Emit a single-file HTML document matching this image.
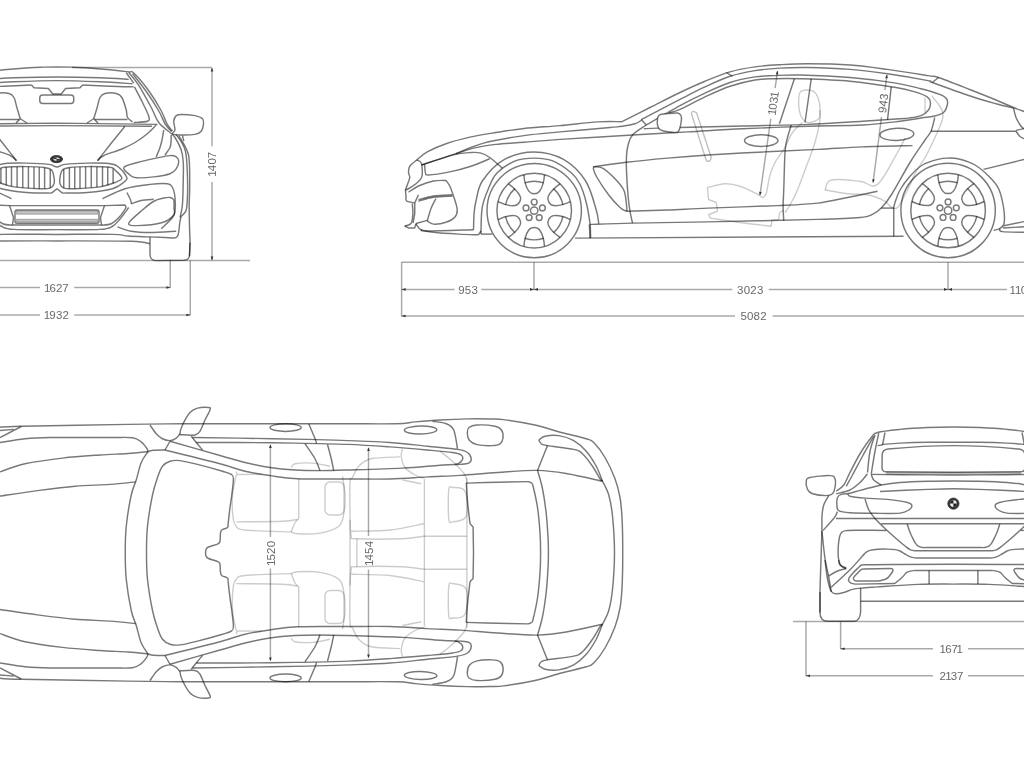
<!DOCTYPE html>
<html><head><meta charset="utf-8"><title>BMW 8 Series Gran Coupe dimensions</title>
<style>
html,body{margin:0;padding:0;background:#fff;}
body{width:1024px;height:768px;overflow:hidden;position:relative;}
svg{position:absolute;left:0;top:0;display:block;}
.car path,.car rect,.car ellipse,.car circle{fill:none;stroke:rgba(0,0,0,0.53);stroke-width:1.45;stroke-linecap:butt;stroke-linejoin:round;}
.car .faint{stroke:rgba(0,0,0,0.2);stroke-width:1.4;}
.car .faint2{stroke:rgba(0,0,0,0.25);stroke-width:1.4;}
.car .bar{fill:#c8c8c8;stroke:rgba(0,0,0,0.25);stroke-width:1.2;}
.car .logo{fill:#333;stroke:#333;stroke-width:0.8;}
.car path.wfill{fill:#fff;}
.dim path{fill:none;stroke:rgba(0,0,0,0.34);stroke-width:1.5;}
.dim .ah{fill:#333;stroke:none;}
.dim{opacity:0.995;}
.dim text{font-family:"Liberation Sans",sans-serif;font-size:11.5px;fill:#686868;text-anchor:middle;dominant-baseline:central;}
</style></head><body>
<svg width="1024" height="768" viewBox="0 0 1024 768">
<g class="car"><g><path d="M82.5,85 C87.08,85.21 101.46,85.93 110,86.25 C118.54,86.57 129.79,86.79 133.75,86.9"/><path d="M128.75,72.5 C130.31,74.48 134.35,78.57 138.1,84.4 C141.85,90.23 147.81,101.15 151.25,107.5 C154.69,113.85 155.62,118.33 158.75,122.5 C161.88,126.67 168.12,130.83 170,132.5"/><path d="M126.25,72.8 L133.75,83.1"/><path d="M132.5,73.6 C134.8,76.58 141.92,85.27 146.3,91.5 C150.68,97.73 155.65,105.58 158.8,111 C161.95,116.42 163.08,120.58 165.2,124 C167.32,127.42 170.45,130.25 171.5,131.5"/><path d="M134.4,86.9 C135.75,89.5 140.11,97.61 142.5,102.5 C144.89,107.39 147.92,113.12 148.75,116.25 C149.58,119.38 150,120.21 147.5,121.25 C145,122.29 136.04,122.29 133.75,122.5"/><path d="M93.75,118.75 C94.29,116.96 95.96,111.54 97,108 C98.04,104.46 98.67,99.92 100,97.5 C101.33,95.08 102.29,94.17 105,93.5 C107.71,92.83 113.43,92.83 116.25,93.5 C119.07,94.17 120.23,94.75 121.9,97.5 C123.57,100.25 125.32,106.67 126.25,110 C127.18,113.33 126.46,115.52 127.5,117.5 C128.54,119.48 131.67,121.17 132.5,121.9"/><path d="M87,123 L93.75,118.75 L98,123"/><path d="M95,119.4 L127.5,119.4"/><path d="M125,126.25 C123,128.71 116.96,136.04 113,141 C109.04,145.96 103.83,152.73 101.25,156 C98.67,159.27 98.12,159.83 97.5,160.6"/><path d="M156.25,125 C154.71,126.5 150.54,131.08 147,134 C143.46,136.92 139.17,140 135,142.5 C130.83,145 127.21,146.82 122,149 C116.79,151.18 107.83,153.67 103.75,155.6 C99.67,157.53 98.54,159.77 97.5,160.6"/><path d="M163.75,130 C163.46,131.67 162.62,137.08 162,140 C161.38,142.92 160.96,144.68 160,147.5 C159.04,150.32 156.88,155.33 156.25,156.9"/><path d="M171.25,135 C171.21,136.17 171.21,139.92 171,142 C170.79,144.08 171,145.33 170,147.5 C169,149.67 165.83,153.75 165,155"/><path d="M178.75,135.6 C179.79,137.38 183.41,143.18 185,146.25 C186.59,149.32 187.57,151.21 188.3,154 C189.03,156.79 189.17,159 189.4,163 C189.63,167 189.67,173.08 189.7,178 C189.73,182.92 189.68,188 189.6,192.5 C189.52,197 189.22,199.42 189.2,205 C189.18,210.58 189.37,219.75 189.5,226 C189.63,232.25 190.02,237.46 190,242.5 C189.98,247.54 189.5,253.96 189.4,256.25"/><path d="M176,134.5 C177,135.92 180.42,140.17 182,143 C183.58,145.83 184.7,148.25 185.5,151.5 C186.3,154.75 186.47,158.08 186.8,162.5 C187.13,166.92 187.37,173 187.5,178 C187.63,183 187.81,187.17 187.6,192.5 C187.39,197.83 187.31,206.04 186.25,210 C185.19,213.96 182.08,215.21 181.25,216.25"/><path d="M170,132.5 C170.83,133.33 173.12,134.58 175,137.5 C176.88,140.42 179.87,145.83 181.25,150 C182.63,154.17 182.98,157.08 183.3,162.5 C183.62,167.92 183.35,175.42 183.2,182.5 C183.05,189.58 182.93,199.17 182.4,205 C181.87,210.83 180.4,215.42 180,217.5"/><path d="M175,130 C175.21,127.92 173.54,123.65 173.75,121.25 C173.96,118.85 175,116.74 176.25,115.6 C177.5,114.46 178.12,114.4 181.25,114.4 C184.38,114.4 191.46,114.88 195,115.6 C198.54,116.32 201.08,117.39 202.5,118.75 C203.92,120.11 203.71,121.67 203.5,123.75 C203.29,125.83 202.67,129.47 201.25,131.25 C199.83,133.03 198.54,133.78 195,134.4 C191.46,135.03 183.75,135.11 180,135 C176.25,134.89 173.33,134.58 172.5,133.75 C171.67,132.92 174.79,132.08 175,130Z"/><path d="M182.5,135.6 L183.8,141"/><path d="M123.75,167.5 C125,165.42 132.08,164.07 137.5,162.5 C142.92,160.93 150.83,159.25 156.25,158.1 C161.67,156.95 166.67,155.8 170,155.6 C173.33,155.4 174.79,155.96 176.25,156.9 C177.71,157.84 178.75,159.28 178.75,161.25 C178.75,163.22 177.71,166.67 176.25,168.75 C174.79,170.83 173.75,172.39 170,173.75 C166.25,175.11 159.38,176.23 153.75,176.9 C148.12,177.57 140.21,178.07 136.25,177.75 C132.29,177.43 132.08,176.71 130,175 C127.92,173.29 122.5,169.58 123.75,167.5Z"/><path d="M60,177.5 C60.42,175.21 60.83,171.67 62.5,170 C64.17,168.33 65.83,168.07 70,167.5 C74.17,166.93 80.83,166.64 87.5,166.6 C94.17,166.56 105.42,166.68 110,167.25 C114.58,167.82 113.02,168.19 115,170 C116.98,171.81 121.9,176.02 121.9,178.1 C121.9,180.18 118.65,181.03 115,182.5 C111.35,183.97 106.67,185.86 100,186.9 C93.33,187.94 81.04,188.55 75,188.75 C68.96,188.95 66.25,188.93 63.75,188.1 C61.25,187.27 60.62,185.52 60,183.75 C59.38,181.98 59.58,179.79 60,177.5Z"/><path d="M63.75,169.3 L63.75,188.1"/><path d="M69.4,167.6 L69.4,188.6"/><path d="M74.75,167.2 L74.75,188.75"/><path d="M80,166.9 L80,188.6"/><path d="M85.6,166.7 L85.6,188.2"/><path d="M91.25,166.6 L91.25,187.8"/><path d="M96.9,166.7 L96.9,187.2"/><path d="M102.5,166.9 L102.5,186.4"/><path d="M107.75,167.1 L107.75,185"/><path d="M113.1,168.6 L113.1,183.4"/><path d="M102.5,198.75 C106.25,197.08 117.08,191.14 125,188.75 C132.92,186.36 142.92,185.23 150,184.4 C157.08,183.57 163.75,183.23 167.5,183.75 C171.25,184.27 171.25,185.21 172.5,187.5 C173.75,189.79 174.58,193.54 175,197.5 C175.42,201.46 175.42,207.92 175,211.25 C174.58,214.58 174.79,214.58 172.5,217.5 C170.21,220.42 163.12,226.88 161.25,228.75"/><path d="M128.75,223.1 C129.58,220.5 138.33,213.64 142.5,210 C146.67,206.36 150.17,203.25 153.75,201.25 C157.33,199.25 161.29,198.62 164,198 C166.71,197.38 168.38,197.17 170,197.5 C171.62,197.83 173.08,198.25 173.75,200 C174.42,201.75 174,205.5 174,208 C174,210.5 175.67,212.58 173.75,215 C171.83,217.42 168.54,220.73 162.5,222.5 C156.46,224.27 143.12,225.5 137.5,225.6 C131.88,225.7 127.92,225.7 128.75,223.1Z"/><path d="M126.9,192.5 C127.52,193.75 129.88,198.12 130.6,200 C131.32,201.88 131.14,203.12 131.25,203.75"/><path d="M131.25,203.75 C132.88,203.21 137.25,201.24 141,200.5 C144.75,199.76 151.62,199.5 153.75,199.3"/><path d="M104.5,205.6 L125,205 L126.25,207.3"/><path d="M126.25,207.3 C125.21,208.79 122.5,213.51 120,216.25 C117.5,218.99 114.33,222.26 111.25,223.75 C108.17,225.24 103.12,224.96 101.5,225.2"/><path d="M175,238.1 C175.52,237.58 177.27,237.81 178.1,235 C178.93,232.19 179.47,224.38 180,221.25 C180.53,218.12 181.04,217.08 181.25,216.25"/><path d="M117.5,226.9 C119.79,227.62 125.83,230.32 131.25,231.25 C136.67,232.18 142.5,232.5 150,232.5 C157.5,232.5 171.88,231.46 176.25,231.25"/><path d="M150,236.9 L150,254 Q150,260.6 156,260.6 L184,260.3 Q189.4,260 189.6,255 L190,242.5"/></g><g transform="translate(114,0) scale(-1,1)"><path d="M82.5,85 C87.08,85.21 101.46,85.93 110,86.25 C118.54,86.57 129.79,86.79 133.75,86.9"/><path d="M128.75,72.5 C130.31,74.48 134.35,78.57 138.1,84.4 C141.85,90.23 147.81,101.15 151.25,107.5 C154.69,113.85 155.62,118.33 158.75,122.5 C161.88,126.67 168.12,130.83 170,132.5"/><path d="M126.25,72.8 L133.75,83.1"/><path d="M132.5,73.6 C134.8,76.58 141.92,85.27 146.3,91.5 C150.68,97.73 155.65,105.58 158.8,111 C161.95,116.42 163.08,120.58 165.2,124 C167.32,127.42 170.45,130.25 171.5,131.5"/><path d="M134.4,86.9 C135.75,89.5 140.11,97.61 142.5,102.5 C144.89,107.39 147.92,113.12 148.75,116.25 C149.58,119.38 150,120.21 147.5,121.25 C145,122.29 136.04,122.29 133.75,122.5"/><path d="M93.75,118.75 C94.29,116.96 95.96,111.54 97,108 C98.04,104.46 98.67,99.92 100,97.5 C101.33,95.08 102.29,94.17 105,93.5 C107.71,92.83 113.43,92.83 116.25,93.5 C119.07,94.17 120.23,94.75 121.9,97.5 C123.57,100.25 125.32,106.67 126.25,110 C127.18,113.33 126.46,115.52 127.5,117.5 C128.54,119.48 131.67,121.17 132.5,121.9"/><path d="M87,123 L93.75,118.75 L98,123"/><path d="M95,119.4 L127.5,119.4"/><path d="M125,126.25 C123,128.71 116.96,136.04 113,141 C109.04,145.96 103.83,152.73 101.25,156 C98.67,159.27 98.12,159.83 97.5,160.6"/><path d="M156.25,125 C154.71,126.5 150.54,131.08 147,134 C143.46,136.92 139.17,140 135,142.5 C130.83,145 127.21,146.82 122,149 C116.79,151.18 107.83,153.67 103.75,155.6 C99.67,157.53 98.54,159.77 97.5,160.6"/><path d="M163.75,130 C163.46,131.67 162.62,137.08 162,140 C161.38,142.92 160.96,144.68 160,147.5 C159.04,150.32 156.88,155.33 156.25,156.9"/><path d="M171.25,135 C171.21,136.17 171.21,139.92 171,142 C170.79,144.08 171,145.33 170,147.5 C169,149.67 165.83,153.75 165,155"/><path d="M178.75,135.6 C179.79,137.38 183.41,143.18 185,146.25 C186.59,149.32 187.57,151.21 188.3,154 C189.03,156.79 189.17,159 189.4,163 C189.63,167 189.67,173.08 189.7,178 C189.73,182.92 189.68,188 189.6,192.5 C189.52,197 189.22,199.42 189.2,205 C189.18,210.58 189.37,219.75 189.5,226 C189.63,232.25 190.02,237.46 190,242.5 C189.98,247.54 189.5,253.96 189.4,256.25"/><path d="M176,134.5 C177,135.92 180.42,140.17 182,143 C183.58,145.83 184.7,148.25 185.5,151.5 C186.3,154.75 186.47,158.08 186.8,162.5 C187.13,166.92 187.37,173 187.5,178 C187.63,183 187.81,187.17 187.6,192.5 C187.39,197.83 187.31,206.04 186.25,210 C185.19,213.96 182.08,215.21 181.25,216.25"/><path d="M170,132.5 C170.83,133.33 173.12,134.58 175,137.5 C176.88,140.42 179.87,145.83 181.25,150 C182.63,154.17 182.98,157.08 183.3,162.5 C183.62,167.92 183.35,175.42 183.2,182.5 C183.05,189.58 182.93,199.17 182.4,205 C181.87,210.83 180.4,215.42 180,217.5"/><path d="M175,130 C175.21,127.92 173.54,123.65 173.75,121.25 C173.96,118.85 175,116.74 176.25,115.6 C177.5,114.46 178.12,114.4 181.25,114.4 C184.38,114.4 191.46,114.88 195,115.6 C198.54,116.32 201.08,117.39 202.5,118.75 C203.92,120.11 203.71,121.67 203.5,123.75 C203.29,125.83 202.67,129.47 201.25,131.25 C199.83,133.03 198.54,133.78 195,134.4 C191.46,135.03 183.75,135.11 180,135 C176.25,134.89 173.33,134.58 172.5,133.75 C171.67,132.92 174.79,132.08 175,130Z"/><path d="M182.5,135.6 L183.8,141"/><path d="M123.75,167.5 C125,165.42 132.08,164.07 137.5,162.5 C142.92,160.93 150.83,159.25 156.25,158.1 C161.67,156.95 166.67,155.8 170,155.6 C173.33,155.4 174.79,155.96 176.25,156.9 C177.71,157.84 178.75,159.28 178.75,161.25 C178.75,163.22 177.71,166.67 176.25,168.75 C174.79,170.83 173.75,172.39 170,173.75 C166.25,175.11 159.38,176.23 153.75,176.9 C148.12,177.57 140.21,178.07 136.25,177.75 C132.29,177.43 132.08,176.71 130,175 C127.92,173.29 122.5,169.58 123.75,167.5Z"/><path d="M60,177.5 C60.42,175.21 60.83,171.67 62.5,170 C64.17,168.33 65.83,168.07 70,167.5 C74.17,166.93 80.83,166.64 87.5,166.6 C94.17,166.56 105.42,166.68 110,167.25 C114.58,167.82 113.02,168.19 115,170 C116.98,171.81 121.9,176.02 121.9,178.1 C121.9,180.18 118.65,181.03 115,182.5 C111.35,183.97 106.67,185.86 100,186.9 C93.33,187.94 81.04,188.55 75,188.75 C68.96,188.95 66.25,188.93 63.75,188.1 C61.25,187.27 60.62,185.52 60,183.75 C59.38,181.98 59.58,179.79 60,177.5Z"/><path d="M63.75,169.3 L63.75,188.1"/><path d="M69.4,167.6 L69.4,188.6"/><path d="M74.75,167.2 L74.75,188.75"/><path d="M80,166.9 L80,188.6"/><path d="M85.6,166.7 L85.6,188.2"/><path d="M91.25,166.6 L91.25,187.8"/><path d="M96.9,166.7 L96.9,187.2"/><path d="M102.5,166.9 L102.5,186.4"/><path d="M107.75,167.1 L107.75,185"/><path d="M113.1,168.6 L113.1,183.4"/><path d="M102.5,198.75 C106.25,197.08 117.08,191.14 125,188.75 C132.92,186.36 142.92,185.23 150,184.4 C157.08,183.57 163.75,183.23 167.5,183.75 C171.25,184.27 171.25,185.21 172.5,187.5 C173.75,189.79 174.58,193.54 175,197.5 C175.42,201.46 175.42,207.92 175,211.25 C174.58,214.58 174.79,214.58 172.5,217.5 C170.21,220.42 163.12,226.88 161.25,228.75"/><path d="M128.75,223.1 C129.58,220.5 138.33,213.64 142.5,210 C146.67,206.36 150.17,203.25 153.75,201.25 C157.33,199.25 161.29,198.62 164,198 C166.71,197.38 168.38,197.17 170,197.5 C171.62,197.83 173.08,198.25 173.75,200 C174.42,201.75 174,205.5 174,208 C174,210.5 175.67,212.58 173.75,215 C171.83,217.42 168.54,220.73 162.5,222.5 C156.46,224.27 143.12,225.5 137.5,225.6 C131.88,225.7 127.92,225.7 128.75,223.1Z"/><path d="M126.9,192.5 C127.52,193.75 129.88,198.12 130.6,200 C131.32,201.88 131.14,203.12 131.25,203.75"/><path d="M131.25,203.75 C132.88,203.21 137.25,201.24 141,200.5 C144.75,199.76 151.62,199.5 153.75,199.3"/><path d="M104.5,205.6 L125,205 L126.25,207.3"/><path d="M126.25,207.3 C125.21,208.79 122.5,213.51 120,216.25 C117.5,218.99 114.33,222.26 111.25,223.75 C108.17,225.24 103.12,224.96 101.5,225.2"/><path d="M175,238.1 C175.52,237.58 177.27,237.81 178.1,235 C178.93,232.19 179.47,224.38 180,221.25 C180.53,218.12 181.04,217.08 181.25,216.25"/><path d="M117.5,226.9 C119.79,227.62 125.83,230.32 131.25,231.25 C136.67,232.18 142.5,232.5 150,232.5 C157.5,232.5 171.88,231.46 176.25,231.25"/><path d="M150,236.9 L150,254 Q150,260.6 156,260.6 L184,260.3 Q189.4,260 189.6,255 L190,242.5"/></g><path d="M-58.5,131.25 C-57.58,130 -54.95,127.29 -53,123.75 C-51.05,120.21 -49.93,115.62 -46.8,110 C-43.67,104.38 -38.75,96.2 -34.2,90 C-29.65,83.8 -22.74,75.82 -19.5,72.8 C-16.26,69.78 -18.67,72.41 -14.75,71.9 C-10.83,71.39 -3.29,70.45 4,69.75 C11.29,69.05 22.5,68.14 29,67.7 C35.5,67.26 38.33,67.23 43,67.1 C47.67,66.97 52.33,66.9 57,66.9 C61.67,66.9 66.33,66.97 71,67.1 C75.67,67.23 78.5,67.26 85,67.7 C91.5,68.14 102.71,69.05 110,69.75 C117.29,70.45 124.83,71.39 128.75,71.9 C132.67,72.41 130.26,69.78 133.5,72.8 C136.74,75.82 143.65,83.8 148.2,90 C152.75,96.2 157.67,104.38 160.8,110 C163.93,115.62 165.05,120.21 167,123.75 C168.95,127.29 171.58,130 172.5,131.25"/><path d="M-14.75,79.4 C-9.96,79.13 2.04,78.22 14,77.8 C25.96,77.38 42.67,76.9 57,76.9 C71.33,76.9 88.04,77.38 100,77.8 C111.96,78.22 123.96,79.13 128.75,79.4"/><path d="M-18.5,83.75 C-13.08,83.42 1.42,82.33 14,81.8 C26.58,81.27 42.67,80.6 57,80.6 C71.33,80.6 87.42,81.27 100,81.8 C112.58,82.33 127.08,83.42 132.5,83.75"/><path d="M31.5,85 L34,87.75 L48.4,88.5 L52.75,94 L57,94 L61.25,94 L65.6,88.5 L80,87.75 L82.5,85"/><path d="M-43.5,124.4 L57,123.1 L157.5,124.4"/><path d="M-38,126.2 L57,125.6 L152,126.2"/><path d="M51.5,193.1 C47.33,193 34.83,193.22 26.5,192.5 C18.17,191.78 7.75,190.62 1.5,188.75 C-4.75,186.88 -8.71,183.33 -11,181.25 C-13.29,179.17 -13.5,178.75 -12.25,176.25 C-11,173.75 -6.42,168.38 -3.5,166.25 C-0.58,164.12 0.25,164.03 5.25,163.5 C10.25,162.97 19.21,162.95 26.5,163.1 C33.79,163.25 43.92,163.77 49,164.4 C54.08,165.03 54.33,166.9 57,166.9 C59.67,166.9 59.92,165.03 65,164.4 C70.08,163.77 80.21,163.25 87.5,163.1 C94.79,162.95 103.75,162.97 108.75,163.5 C113.75,164.03 114.58,164.12 117.5,166.25 C120.42,168.38 125,173.75 126.25,176.25 C127.5,178.75 127.29,179.17 125,181.25 C122.71,183.33 118.75,186.88 112.5,188.75 C106.25,190.62 95.83,191.78 87.5,192.5 C79.17,193.22 66.67,193 62.5,193.1"/><path d="M62.5,193.1 L57,188.75 L51.5,193.1"/><path d="M57,205.6 L104.5,205.6 L100.5,217.5 L101.5,225 L57,225 L12.5,225 L13.5,217.5 L9.5,205.6 L57,205.6"/><rect x="15" y="210" width="84" height="13.2" rx="2" ry="2"/><path d="M128.75,207.5 C127.29,209.42 122.71,215.88 120,219 C117.29,222.12 115.83,224.52 112.5,226.25 C109.17,227.98 109.25,228.84 100,229.4 C90.75,229.96 71.33,229.6 57,229.6 C42.67,229.6 23.25,229.96 14,229.4 C4.75,228.84 4.83,227.98 1.5,226.25 C-1.83,224.52 -3.29,222.12 -6,219 C-8.71,215.88 -13.29,209.42 -14.75,207.5"/><path d="M-61,238.1 C-59.33,238 -55.17,237.7 -51,237.5 C-46.83,237.3 -42.17,237.15 -36,236.9 C-29.83,236.65 -20.25,236.42 -14,236 C-7.75,235.58 -10.33,234.67 1.5,234.4 C13.33,234.13 38.5,234.4 57,234.4 C75.5,234.4 100.67,234.13 112.5,234.4 C124.33,234.67 121.75,235.58 128,236 C134.25,236.42 143.83,236.65 150,236.9 C156.17,237.15 160.83,237.3 165,237.5 C169.17,237.7 173.33,238 175,238.1"/><path d="M-36,243.75 C-32.88,243.33 -32.75,241.72 -17.25,241.25 C-1.75,240.78 32.25,240.9 57,240.9 C81.75,240.9 115.75,240.78 131.25,241.25 C146.75,241.72 146.88,243.33 150,243.75"/><rect x="39.75" y="95" width="34" height="8.5" rx="3" ry="3"/><rect x="16.5" y="210.8" width="81" height="3.4" class="bar"/><rect x="16.5" y="219.4" width="81" height="2.4" class="bar"/><ellipse cx="56.5" cy="159.1" rx="6.1" ry="3.6" class="logo"/><ellipse cx="56.5" cy="159.1" rx="3.2" ry="1.8" style="fill:#d8d8d8;stroke:none"/><path d="M56.5,157.3 A3.2,1.8 0 0 0 53.3,159.1 L56.5,159.1Z M56.5,160.9 A3.2,1.8 0 0 0 59.7,159.1 L56.5,159.1Z" style="fill:#333;stroke:none"/></g>
<g class="car"><path d="M416.6,160 C418.38,158.65 422.35,154.61 427.25,151.9 C432.15,149.19 438.71,146.25 446,143.75 C453.29,141.25 462.67,138.78 471,136.9 C479.33,135.03 487.17,133.9 496,132.5 C504.83,131.1 513.33,129.65 524,128.5 C534.67,127.35 547.75,126.7 560,125.6 C572.25,124.5 587.25,122.55 597.5,121.9 C607.75,121.25 617.5,121.73 621.5,121.7"/><path d="M621.5,121.8 C626.25,119.42 640.25,112.38 650,107.5 C659.75,102.62 670.83,96.88 680,92.5 C689.17,88.12 696.67,84.68 705,81.25 C713.33,77.82 721.67,74.29 730,71.9 C738.33,69.51 746.67,68.09 755,66.9 C763.33,65.71 771.17,65.28 780,64.75 C788.83,64.22 796.33,63.71 808,63.75 C819.67,63.79 836.75,64.06 850,65 C863.25,65.94 874.5,67.63 887.5,69.4 C900.5,71.17 919.5,74.25 928,75.6 C936.5,76.95 931.33,75.1 938.5,77.5 C945.67,79.9 961.42,86.25 971,90 C980.58,93.75 988.92,97.08 996,100 C1003.08,102.92 1008.83,105.58 1013.5,107.5 C1018.17,109.42 1022.25,110.83 1024,111.5"/><path d="M421.6,165 C426.92,163.23 443.18,158.05 453.5,154.4 C463.82,150.75 471.75,146.23 483.5,143.1 C495.25,139.97 511.25,137.47 524,135.6 C536.75,133.73 545.67,133.25 560,131.9 C574.33,130.55 599.58,128.44 610,127.5 C620.42,126.56 618.33,126.88 622.5,126.25 C626.67,125.62 631.88,124.74 635,123.75 C638.12,122.76 640.21,120.88 641.25,120.3"/><path d="M641.25,119.6 C647.71,116.23 669.38,104.85 680,99.4 C690.62,93.95 696.67,90.76 705,86.9 C713.33,83.04 721.67,78.97 730,76.25 C738.33,73.53 746.67,71.96 755,70.6 C763.33,69.24 771.17,68.62 780,68.1 C788.83,67.58 796.33,67.28 808,67.5 C819.67,67.72 836.75,68.36 850,69.4 C863.25,70.44 874.5,71.88 887.5,73.75 C900.5,75.62 920.54,79.14 928,80.6 C935.46,82.06 925.08,79.89 932.25,82.5 C939.42,85.11 960.38,92.71 971,96.25 C981.62,99.79 988.92,101.78 996,103.75 C1003.08,105.72 1010.58,107.38 1013.5,108.1"/><path d="M456,153.75 C458.92,152.81 466.83,149.66 473.5,148.1 C480.17,146.54 487.58,145.38 496,144.4 C504.42,143.43 513.33,143.08 524,142.25 C534.67,141.42 541.92,140.61 560,139.4 C578.08,138.19 611.17,136.25 632.5,135 C653.83,133.75 669.67,132.94 688,131.9 C706.33,130.86 722.5,129.69 742.5,128.75 C762.5,127.81 788,126.88 808,126.25 C828,125.62 847.17,125.83 862.5,125 C877.83,124.17 890.25,122.42 900,121.25 C909.75,120.08 915.42,118.83 921,118 C926.58,117.17 929.75,117.17 933.5,116.25 C937.25,115.33 941.21,114.38 943.5,112.5 C945.79,110.62 946.73,107.29 947.25,105 C947.77,102.71 947.85,100.52 946.6,98.75 C945.35,96.98 944.02,96.07 939.75,94.4 C935.48,92.73 928.29,90.63 921,88.75 C913.71,86.87 907.83,84.97 896,83.1 C884.17,81.22 866,78.85 850,77.5 C834,76.15 812.71,75.32 800,75 C787.29,74.68 781.25,75.28 773.75,75.6 C766.25,75.92 762.29,75.75 755,76.9 C747.71,78.05 738.33,79.8 730,82.5 C721.67,85.2 713.33,89.25 705,93.1 C696.67,96.95 689.79,100.28 680,105.6 C670.21,110.92 651.88,121.77 646.25,125"/><path d="M643.75,128.75 C646.04,128.64 651.46,128.31 657.5,128.1 C663.54,127.89 665.92,127.85 680,127.5 C694.08,127.15 720.67,126.52 742,126 C763.33,125.48 787.92,125.19 808,124.4 C828.08,123.61 847.17,122.19 862.5,121.25 C877.83,120.31 892.33,119.28 900,118.75 C907.67,118.22 905,118.62 908.5,118.1 C912,117.57 917.67,116.95 921,115.6 C924.33,114.25 926.93,112.18 928.5,110 C930.07,107.82 930.61,104.68 930.4,102.5 C930.19,100.32 929.86,98.67 927.25,96.9 C924.64,95.13 919.96,93.47 914.75,91.9 C909.54,90.33 906.79,89.28 896,87.5 C885.21,85.72 866,82.71 850,81.25 C834,79.79 812.71,79.17 800,78.75 C787.29,78.33 781.25,78.54 773.75,78.75 C766.25,78.96 762.29,78.75 755,80 C747.71,81.25 738.33,83.43 730,86.25 C721.67,89.07 713.33,93.04 705,96.9 C696.67,100.76 686.04,106.72 680,109.4 C673.96,112.08 670.62,112.4 668.75,113"/><path d="M641.25,119.4 L646.25,125"/><path d="M646.25,125 C643.96,126.67 635.52,131.67 632.5,135 C629.48,138.33 629.1,141.5 628.1,145 C627.1,148.5 626.77,151.62 626.5,156 C626.23,160.38 626.23,164.54 626.5,171.25 C626.77,177.96 627.52,189.58 628.1,196.25 C628.68,202.92 629.27,206.78 630,211.25 C630.73,215.72 632.08,221.12 632.5,223.1"/><path d="M726.25,72.5 L732.5,76.25"/><path d="M932.25,82.5 L938.5,77.5"/><path d="M794.4,78.75 L779.4,123.75"/><path d="M811.25,78.75 L805,122.5"/><path d="M791.25,125 C790.52,127.5 787.94,135.42 786.9,140 C785.86,144.58 785.52,144.17 785,152.5 C784.48,160.83 784.07,181.04 783.75,190 C783.43,198.96 783.1,201.15 783.1,206.25 C783.1,211.35 783.64,218.21 783.75,220.6"/><path d="M891.25,86.9 L887.5,120"/><ellipse cx="761.25" cy="140.6" rx="16.75" ry="5.8"/><ellipse cx="896.9" cy="134.4" rx="16.9" ry="6.1" transform="rotate(-2 896.9 134.4)"/><path d="M593.1,166.9 C598.62,166.12 613.85,163.72 626.25,162.25 C638.65,160.78 653.88,159.31 667.5,158.1 C681.12,156.89 691.75,156.03 708,155 C724.25,153.97 746.67,152.83 765,151.9 C783.33,150.97 801.75,150.23 818,149.4 C834.25,148.57 846.75,147.53 862.5,146.9 C878.25,146.27 904.17,145.82 912.5,145.6"/><path d="M593.1,166.9 C594.67,167.1 598.85,166.12 602.5,168.1 C606.15,170.07 611.46,175.1 615,178.75 C618.54,182.4 621.88,186.04 623.75,190 C625.62,193.96 625.73,198.96 626.25,202.5 C626.77,206.04 626.79,209.79 626.9,211.25"/><path d="M593.1,167.5 C593.62,168.96 593.64,171.67 596.25,176.25 C598.86,180.83 604.79,189.79 608.75,195 C612.71,200.21 617.08,204.79 620,207.5 C622.92,210.21 625.21,210.62 626.25,211.25"/><path d="M626.25,211.25 C633.12,211.04 653.88,210.53 667.5,210 C681.12,209.47 689.67,208.83 708,208.1 C726.33,207.37 759.17,206.43 777.5,205.6 C795.83,204.77 806.33,204.45 818,203.1 C829.67,201.75 837.58,199.47 847.5,197.5 C857.42,195.53 872.5,192.29 877.5,191.25"/><path d="M590,224.4 C597.08,224.18 612.83,223.52 632.5,223.1 C652.17,222.68 677.08,222.52 708,221.9 C738.92,221.28 792.67,220.13 818,219.4 C843.33,218.67 850.92,218.33 860,217.5 C869.08,216.67 868.96,215.97 872.5,214.4 C876.04,212.83 878.12,211.33 881.25,208.1 C884.38,204.87 886.46,202.6 891.25,195 C896.04,187.4 904.38,171.67 910,162.5 C915.62,153.33 921.5,145.21 925,140 C928.5,134.79 929.38,135 931,131.25 C932.62,127.5 934.12,119.79 934.75,117.5"/><path d="M575,238.1 L903.5,236.2"/><path d="M589.4,224.4 L590,238.1"/><path d="M893.75,208.1 L893.75,236.4"/><path d="M881.25,208.1 L893.75,208.1"/><path d="M473.5,229.75 C473.6,227.04 473.68,218.29 474.1,213.5 C474.52,208.71 474.6,206.46 476,201 C477.4,195.54 477.75,187.68 482.5,180.75 C487.25,173.82 495.92,164.21 504.5,159.4 C513.08,154.59 524.17,151.9 534,151.9 C543.83,151.9 554.92,154.59 563.5,159.4 C572.08,164.21 580.04,172.32 585.5,180.75 C590.96,189.18 594.04,202.83 596.25,210 C598.46,217.17 598.33,221.46 598.75,223.75"/><path d="M481,234 C481,233.5 480.79,235.46 481,231 C481.21,226.54 481,214.33 482.25,207.25 C483.5,200.17 486.04,194.21 488.5,188.5 C490.96,182.79 492.43,177.63 497,173 C501.57,168.37 509.73,163.18 515.9,160.7 C522.07,158.22 527.97,158.1 534,158.1 C540.03,158.1 545.85,158.22 552.1,160.7 C558.35,163.18 566.87,169.12 571.5,173 C576.13,176.88 577.44,179.08 579.9,184 C582.36,188.92 584.57,195.88 586.25,202.5 C587.93,209.12 589.27,217.83 590,223.75 C590.73,229.67 590.5,235.62 590.6,238"/><circle cx="534.2" cy="210.6" r="47.2"/><circle cx="534.2" cy="210.6" r="37.3"/><circle cx="534.2" cy="210.6" r="3.7"/><circle cx="534.2" cy="202" r="2.9"/><circle cx="542.38" cy="207.94" r="2.9"/><circle cx="539.25" cy="217.56" r="2.9"/><circle cx="529.15" cy="217.56" r="2.9"/><circle cx="526.02" cy="207.94" r="2.9"/><g transform="translate(534.2,210.6) rotate(0)"><path d="M-10.3,-35.8 C-9.9,-30 -8.7,-24 -5.4,-19.4 C-3,-16.1 3,-16.1 5.4,-19.4 C8.7,-24 9.9,-30 10.3,-35.8"/><path d="M-9.4,-27.7 A29.3,29.3 0 0 1 9.4,-27.7"/></g><g transform="translate(534.2,210.6) rotate(60)"><path d="M-10.3,-35.8 C-9.9,-30 -8.7,-24 -5.4,-19.4 C-3,-16.1 3,-16.1 5.4,-19.4 C8.7,-24 9.9,-30 10.3,-35.8"/><path d="M-9.4,-27.7 A29.3,29.3 0 0 1 9.4,-27.7"/></g><g transform="translate(534.2,210.6) rotate(120)"><path d="M-10.3,-35.8 C-9.9,-30 -8.7,-24 -5.4,-19.4 C-3,-16.1 3,-16.1 5.4,-19.4 C8.7,-24 9.9,-30 10.3,-35.8"/><path d="M-9.4,-27.7 A29.3,29.3 0 0 1 9.4,-27.7"/></g><g transform="translate(534.2,210.6) rotate(180)"><path d="M-10.3,-35.8 C-9.9,-30 -8.7,-24 -5.4,-19.4 C-3,-16.1 3,-16.1 5.4,-19.4 C8.7,-24 9.9,-30 10.3,-35.8"/><path d="M-9.4,-27.7 A29.3,29.3 0 0 1 9.4,-27.7"/></g><g transform="translate(534.2,210.6) rotate(240)"><path d="M-10.3,-35.8 C-9.9,-30 -8.7,-24 -5.4,-19.4 C-3,-16.1 3,-16.1 5.4,-19.4 C8.7,-24 9.9,-30 10.3,-35.8"/><path d="M-9.4,-27.7 A29.3,29.3 0 0 1 9.4,-27.7"/></g><g transform="translate(534.2,210.6) rotate(300)"><path d="M-10.3,-35.8 C-9.9,-30 -8.7,-24 -5.4,-19.4 C-3,-16.1 3,-16.1 5.4,-19.4 C8.7,-24 9.9,-30 10.3,-35.8"/><path d="M-9.4,-27.7 A29.3,29.3 0 0 1 9.4,-27.7"/></g><circle cx="948.1" cy="210.5" r="47.2"/><circle cx="948.1" cy="210.5" r="37.3"/><circle cx="948.1" cy="210.5" r="3.7"/><circle cx="948.1" cy="201.9" r="2.9"/><circle cx="956.28" cy="207.84" r="2.9"/><circle cx="953.15" cy="217.46" r="2.9"/><circle cx="943.05" cy="217.46" r="2.9"/><circle cx="939.92" cy="207.84" r="2.9"/><g transform="translate(948.1,210.5) rotate(0)"><path d="M-10.3,-35.8 C-9.9,-30 -8.7,-24 -5.4,-19.4 C-3,-16.1 3,-16.1 5.4,-19.4 C8.7,-24 9.9,-30 10.3,-35.8"/><path d="M-9.4,-27.7 A29.3,29.3 0 0 1 9.4,-27.7"/></g><g transform="translate(948.1,210.5) rotate(60)"><path d="M-10.3,-35.8 C-9.9,-30 -8.7,-24 -5.4,-19.4 C-3,-16.1 3,-16.1 5.4,-19.4 C8.7,-24 9.9,-30 10.3,-35.8"/><path d="M-9.4,-27.7 A29.3,29.3 0 0 1 9.4,-27.7"/></g><g transform="translate(948.1,210.5) rotate(120)"><path d="M-10.3,-35.8 C-9.9,-30 -8.7,-24 -5.4,-19.4 C-3,-16.1 3,-16.1 5.4,-19.4 C8.7,-24 9.9,-30 10.3,-35.8"/><path d="M-9.4,-27.7 A29.3,29.3 0 0 1 9.4,-27.7"/></g><g transform="translate(948.1,210.5) rotate(180)"><path d="M-10.3,-35.8 C-9.9,-30 -8.7,-24 -5.4,-19.4 C-3,-16.1 3,-16.1 5.4,-19.4 C8.7,-24 9.9,-30 10.3,-35.8"/><path d="M-9.4,-27.7 A29.3,29.3 0 0 1 9.4,-27.7"/></g><g transform="translate(948.1,210.5) rotate(240)"><path d="M-10.3,-35.8 C-9.9,-30 -8.7,-24 -5.4,-19.4 C-3,-16.1 3,-16.1 5.4,-19.4 C8.7,-24 9.9,-30 10.3,-35.8"/><path d="M-9.4,-27.7 A29.3,29.3 0 0 1 9.4,-27.7"/></g><g transform="translate(948.1,210.5) rotate(300)"><path d="M-10.3,-35.8 C-9.9,-30 -8.7,-24 -5.4,-19.4 C-3,-16.1 3,-16.1 5.4,-19.4 C8.7,-24 9.9,-30 10.3,-35.8"/><path d="M-9.4,-27.7 A29.3,29.3 0 0 1 9.4,-27.7"/></g><path d="M893.75,208.1 C893.96,207.17 893.96,205.52 895,202.5 C896.04,199.48 897.5,194.38 900,190 C902.5,185.62 906.25,180.42 910,176.25 C913.75,172.08 917.83,167.81 922.5,165 C927.17,162.19 933.75,160.55 938,159.4 C942.25,158.25 944.33,158.13 948,158.1 C951.67,158.07 955.5,158.05 960,159.2 C964.5,160.35 970.25,162.2 975,165 C979.75,167.8 984.58,172.08 988.5,176 C992.42,179.92 996,183.29 998.5,188.5 C1001,193.71 1002.57,201.42 1003.5,207.25 C1004.43,213.08 1004.73,219.96 1004.1,223.5 C1003.48,227.04 1001.52,227.35 999.75,228.5 C997.98,229.65 994.54,230.08 993.5,230.4"/><path d="M999.75,228.5 C1000.17,229.02 998.21,230.97 1002.25,231.6 C1006.29,232.22 1020.38,232.14 1024,232.25"/><path d="M1004,225.8 L1024,221.6"/><path d="M1003,228 L1024,226.8"/><path d="M983.5,169.4 L1024,159.4"/><path d="M931,131.25 L1016,131.25"/><path d="M1013.5,108.1 C1013.92,109.67 1014.75,114.47 1016,117.5 C1017.25,120.53 1019.67,124.38 1021,126.25 C1022.33,128.12 1023.5,128.33 1024,128.75"/><path d="M1016,131.25 C1016.62,132.08 1018.42,135 1019.75,136.25 C1021.08,137.5 1023.29,138.33 1024,138.75"/><path d="M1016,130.4 L1024,128.6"/><path d="M416.6,160 C417.33,160.42 420.06,160.83 421,162.5 C421.94,164.17 422.15,167.5 422.25,170 C422.35,172.5 422.64,175.21 421.6,177.5 C420.56,179.79 418.18,181.88 416,183.75 C413.82,185.62 410.27,187.71 408.5,188.75 C406.73,189.79 405.92,189.79 405.4,190"/><path d="M416.6,160 C415.46,161.04 411.1,164.17 409.75,166.25 C408.4,168.33 408.5,170.62 408.5,172.5 C408.5,174.38 409.96,175.42 409.75,177.5 C409.54,179.58 407.98,182.92 407.25,185 C406.52,187.08 405.71,189.17 405.4,190"/><path d="M405.4,190 C405.5,191 405.8,194.17 406,196 C406.2,197.83 405.14,199.85 406.6,201 C408.06,202.15 413.39,202.58 414.75,202.9"/><path d="M408.5,192.25 C410.17,191.21 414.33,187.88 418.5,186 C422.67,184.12 428.92,181.93 433.5,181 C438.08,180.07 443.92,180.5 446,180.4"/><path d="M446,180.4 C446.62,181.33 448.5,183.4 449.75,186 C451,188.6 452.25,192.04 453.5,196 C454.75,199.96 457.04,206.21 457.25,209.75 C457.46,213.29 456.62,215.17 454.75,217.25 C452.88,219.33 449.54,221.11 446,222.25 C442.46,223.39 436.62,224.31 433.5,224.1 C430.38,223.89 428.29,221.52 427.25,221"/><path d="M427.25,221 C427.88,218.92 429.54,212.25 431,208.5 C432.46,204.75 435.17,200.17 436,198.5"/><path d="M418.5,199.75 C421,199.12 427.88,196.83 433.5,196 C439.12,195.17 449.12,194.96 452.25,194.75"/><path d="M418.5,201.25 C421,200.59 427.8,198.18 433.5,197.3 C439.2,196.43 449.5,196.22 452.7,196"/><path d="M414.75,202.9 L418.5,194.75"/><path d="M412.25,203.5 C412.36,205.17 413.11,210.17 412.9,213.5 C412.69,216.83 412.36,221.42 411,223.5 C409.64,225.58 405.79,225.58 404.75,226"/><path d="M404.75,226 L408.5,227.9 L414.75,227.9 L416,223.5"/><path d="M414.75,202.9 L414.75,213.5 L413,223"/><path d="M416,223.5 L427.25,220.4"/><path d="M416,224 C416.83,224.96 418.08,228.38 421,229.75 C423.92,231.12 427.25,231.53 433.5,232.25 C439.75,232.97 451,233.68 458.5,234.1 C466,234.52 475.17,234.64 478.5,234.75"/><path d="M478.5,234.75 L481,231"/><path d="M421,229.75 C422.04,229.96 418.5,231 427.25,231 C436,231 465.79,229.96 473.5,229.75"/><path d="M481,234.1 L492.25,234.1"/><path d="M421.6,165 C426.92,163.32 445.27,156.98 453.5,154.9 C461.73,152.82 466.42,152.8 471,152.5 C475.58,152.2 477.88,152.27 481,153.1 C484.12,153.93 486.21,155 489.75,157.5 C493.29,160 500.17,166.33 502.25,168.1"/><path d="M489.75,158.75 C486.62,160 477.67,164.06 471,166.25 C464.33,168.44 456.83,170.44 449.75,171.9 C442.67,173.36 432.56,174.9 428.5,175 C424.44,175.1 426.02,173.96 425.4,172.5 C424.77,171.04 424.93,167.63 424.75,166.25 C424.57,164.87 424.38,164.54 424.3,164.2"/><path d="M691.25,113.1 L705.6,158.5" class="faint2"/><path d="M696.5,112.6 L711.25,157.5" class="faint2"/><path d="M705.6,158.5 C705.83,158.92 706.27,160.65 707,161 C707.73,161.35 709.29,161.18 710,160.6 C710.71,160.02 711.04,158.02 711.25,157.5" class="faint2"/><path d="M691.25,113.1 C691.54,112.82 692.12,111.48 693,111.4 C693.88,111.32 695.92,112.4 696.5,112.6" class="faint2"/><path d="M802.5,122.5 C800.83,124.17 795.42,128.33 792.5,132.5 C789.58,136.67 787.92,142.5 785,147.5 C782.08,152.5 777.5,157.92 775,162.5 C772.5,167.08 771.25,170.83 770,175 C768.75,179.17 768.17,184.33 767.5,187.5 C766.83,190.67 766.83,192.33 766,194 C765.17,195.67 763.83,197.42 762.5,197.5 C761.17,197.58 761.75,196.38 758,194.5 C754.25,192.62 745.5,188.04 740,186.25 C734.5,184.46 730.42,183.54 725,183.75 C719.58,183.96 710.42,186.88 707.5,187.5" class="faint"/><path d="M800,92.5 C801.46,90 805,90 807.5,90 C810,90 813.08,90.67 815,92.5 C816.92,94.33 818.17,98.08 819,101 C819.83,103.92 820.08,107 820,110 C819.92,113 820.58,116.92 818.5,119 C816.42,121.08 810.42,123 807.5,122.5 C804.58,122 802.46,118.92 801,116 C799.54,113.08 798.92,108.92 798.75,105 C798.58,101.08 798.54,95 800,92.5Z" class="faint"/><path d="M820,110 C820,111.67 820.83,114.58 820,120 C819.17,125.42 817.5,134.17 815,142.5 C812.5,150.83 807.92,162.08 805,170 C802.08,177.92 800,184.17 797.5,190 C795,195.83 792.08,201.25 790,205 C787.92,208.75 785.83,211.25 785,212.5" class="faint"/><path d="M707.5,187.5 L708.5,199.5 L716.25,202.5 L717.5,211.25 L708.75,214.5 L710,218.1" class="faint"/><path d="M710,218.1 C715,218.83 729.79,221.14 740,222.5 C750.21,223.86 766.04,225.62 771.25,226.25" class="faint"/><path d="M771.25,226.25 L771.9,220 L778.75,219.5 L779.6,212.5 L783.5,210.5" class="faint"/><path d="M825,190 C826.04,188.33 825.42,181.46 831.25,180 C837.08,178.54 852.29,180.52 860,181.25 C867.71,181.98 871.25,189.19 877.5,184.4 C883.75,179.61 892.92,160.23 897.5,152.5 C902.08,144.77 903.75,140.42 905,138" class="faint"/><path d="M825,190 C828.75,190.62 840.21,192.92 847.5,193.75 C854.79,194.58 862.5,193.75 868.75,195 C875,196.25 881.46,199.38 885,201.25 C888.54,203.12 887.92,205.21 890,206.25 C892.08,207.29 894.58,210.21 897.5,207.5 C900.42,204.79 904.38,196.04 907.5,190 C910.62,183.96 913.17,176.92 916.25,171.25 C919.33,165.58 922.5,162.46 926,156 C929.5,149.54 934.53,138.5 937.25,132.5 C939.97,126.5 941.38,123.25 942.3,120 C943.22,116.75 943.12,115.17 942.8,113 C942.48,110.83 942.27,109.9 940.4,107 C938.53,104.1 933.07,97.5 931.6,95.6" class="faint"/><path d="M925,97.5 L925,112.5" class="faint"/><path d="M659.5,115 C661.25,114.1 665,113.93 668,113.6 C671,113.27 675.33,112.68 677.5,113 C679.67,113.32 680.37,114.17 681,115.5 C681.63,116.83 681.55,118.75 681.3,121 C681.05,123.25 680.22,127.12 679.5,129 C678.78,130.88 678.92,131.83 677,132.3 C675.08,132.77 670.75,132.22 668,131.8 C665.25,131.38 662.22,130.77 660.5,129.8 C658.78,128.83 658.2,127.8 657.7,126 C657.2,124.2 657.2,120.83 657.5,119 C657.8,117.17 657.75,115.9 659.5,115Z" class="wfill"/></g>
<g class="car"><g><path d="M0,430.6 L13.75,429.4"/><path d="M0,437.5 L21.25,426.5"/><path d="M0,442.5 C4.17,441.88 16.67,439.58 25,438.75 C33.33,437.92 35.83,437.71 50,437.5 C64.17,437.29 96.25,437.46 110,437.5 C123.75,437.54 127.29,437.02 132.5,437.75 C137.71,438.48 138.96,440.27 141.25,441.9 C143.54,443.52 145.11,445.94 146.25,447.5 C147.39,449.06 147.79,450.62 148.1,451.25"/><path d="M0,471.9 C4.17,470.54 14.58,466.05 25,463.75 C35.42,461.45 50,459.56 62.5,458.1 C75,456.64 89.08,455.77 100,455 C110.92,454.23 119.98,454.08 128,453.5 C136.02,452.92 144.75,451.83 148.1,451.5"/><path d="M0,496 C6.25,495.1 25,492.23 37.5,490.6 C50,488.98 62.92,487.28 75,486.25 C87.08,485.22 99.9,485.12 110,484.4 C120.1,483.67 131.33,482.32 135.6,481.9"/><path d="M148.1,451.5 C149.04,451.29 150.93,450.5 153.75,450.25 C156.57,450 163.12,450.04 165,450"/><path d="M165,450 C174.17,452.29 206.67,460.21 220,463.75 C233.33,467.29 236.67,469.27 245,471.25 C253.33,473.23 261.25,474.35 270,475.6 C278.75,476.85 284.5,478.18 297.5,478.75 C310.5,479.32 332.58,478.96 348,479 C363.42,479.04 376.75,479.35 390,479 C403.25,478.65 415.83,477.5 427.5,476.9 C439.17,476.3 448.33,476.13 460,475.4 C471.67,474.67 484.58,473.33 497.5,472.5 C510.42,471.67 525.83,470.19 537.5,470.4 C549.17,470.61 556.67,471.94 567.5,473.75 C578.33,475.56 596.67,480 602.5,481.25"/><path d="M170,441.25 C178.33,443.62 207.5,451.96 220,455.5 C232.5,459.04 236.67,460.5 245,462.5 C253.33,464.5 261.67,466.25 270,467.5 C278.33,468.75 286.67,469.48 295,470 C303.33,470.52 311.17,470.6 320,470.6 C328.83,470.6 334.25,470.42 348,470 C361.75,469.58 387.17,468.9 402.5,468.1 C417.83,467.3 430.42,465.82 440,465.2 C449.58,464.58 456.67,464.53 460,464.4"/><path d="M192.5,437.5 C200.08,437.6 218.83,437.78 238,438.1 C257.17,438.42 289.17,438.98 307.5,439.4 C325.83,439.82 334.25,440.08 348,440.6 C361.75,441.12 376.75,441.56 390,442.5 C403.25,443.44 416.25,445.1 427.5,446.25 C438.75,447.4 450.83,448.36 457.5,449.4 C464.17,450.44 465.21,450.94 467.5,452.5 C469.79,454.06 471.04,456.98 471.25,458.75 C471.46,460.52 470.62,462.16 468.75,463.1 C466.88,464.04 461.46,464.18 460,464.4"/><path d="M196.25,442.5 C203.21,442.5 221.54,442.4 238,442.5 C254.46,442.6 276.67,442.78 295,443.1 C313.33,443.42 332.17,443.77 348,444.4 C363.83,445.03 376.75,445.97 390,446.9 C403.25,447.83 417.08,449.07 427.5,450 C437.92,450.93 446.88,451.67 452.5,452.5 C458.12,453.33 459.58,453.83 461.25,455 C462.92,456.17 462.92,458.12 462.5,459.5 C462.08,460.88 460,462.52 458.75,463.3 C457.5,464.08 455.62,464.05 455,464.2"/><path d="M150,425 C151.04,426.46 154.17,431.46 156.25,433.75 C158.33,436.04 160.21,437.61 162.5,438.75 C164.79,439.89 167.71,440.71 170,440.6 C172.29,440.49 174.58,439.24 176.25,438.1 C177.92,436.96 179.38,434.48 180,433.75"/><path d="M170,441.25 L165,450"/><path d="M180,433.75 C180,432.12 180.83,428.54 182.5,425 C184.17,421.46 187.5,415.32 190,412.5 C192.5,409.68 194.38,408.93 197.5,408.1 C200.62,407.27 206.67,407.18 208.75,407.5 C210.83,407.82 210.62,407.92 210,410 C209.38,412.08 206.67,416.46 205,420 C203.33,423.54 201.67,428.75 200,431.25 C198.33,433.75 197.92,434.42 195,435 C192.08,435.58 185,434.96 182.5,434.75 C180,434.54 180,435.38 180,433.75Z" class="wfill"/><path d="M191.25,436.25 C192.08,437.29 194.38,440.21 196.25,442.5 C198.12,444.79 201.46,448.75 202.5,450"/><path d="M308.75,423.75 C309.89,426.46 314.35,436.77 315.6,440 C316.85,443.23 316.14,442.58 316.25,443.1"/><path d="M305,443.75 C306.67,446.25 312.5,454.27 315,458.75 C317.5,463.23 319.17,468.62 320,470.6"/><path d="M327.5,444.4 C328.12,446.79 330.21,454.38 331.25,458.75 C332.29,463.12 333.33,468.62 333.75,470.6"/><ellipse cx="285.6" cy="427.6" rx="15.6" ry="3.8"/><ellipse cx="420.6" cy="430" rx="16.25" ry="4" transform="rotate(-1 420.6 430)"/><path d="M432.5,421.25 C434.79,421.67 442.71,422.29 446.25,423.75 C449.79,425.21 451.88,425.83 453.75,430 C455.62,434.17 456.88,445.62 457.5,448.75"/><path d="M467.3,433 C467.22,430.83 467.38,428.83 469,427.5 C470.62,426.17 472.67,425.22 477,425 C481.33,424.78 490.92,425.37 495,426.2 C499.08,427.03 500.17,428.03 501.5,430 C502.83,431.97 503.25,435.7 503,438 C502.75,440.3 501.83,442.53 500,443.8 C498.17,445.07 495.83,445.47 492,445.6 C488.17,445.73 480.75,445.45 477,444.6 C473.25,443.75 471.12,442.43 469.5,440.5 C467.88,438.57 467.38,435.17 467.3,433Z"/><path d="M466.25,483.1 C471.54,482.95 487.71,482.45 498,482.2 C508.29,481.95 523,481.7 528,481.6"/><path d="M466.25,483.1 C466.46,486.12 466.88,494.48 467.5,501.25 C468.12,508.02 469.58,520 470,523.75"/><path d="M538.75,440 C539.79,439.38 541.67,436.98 545,436.25 C548.33,435.52 553.96,434.88 558.75,435.6 C563.54,436.33 569.17,437.99 573.75,440.6 C578.33,443.21 582.5,446.98 586.25,451.25 C590,455.52 593.54,461.25 596.25,466.25 C598.96,471.25 601.46,478.75 602.5,481.25"/><path d="M538.75,440 C539.17,440.62 539.79,442.82 541.25,443.75 C542.71,444.68 542.08,444.66 547.5,445.6 C552.92,446.54 567.92,448.04 573.75,449.4 C579.58,450.76 579.38,450.94 582.5,453.75 C585.62,456.56 589.58,462.08 592.5,466.25 C595.42,470.42 598.33,476.25 600,478.75 C601.67,481.25 602.08,480.83 602.5,481.25"/><path d="M547.5,445.6 L537.5,470.4"/><path d="M236.25,475 C235.62,478.33 233.03,487.92 232.5,495 C231.97,502.08 232.47,512.29 233.1,517.5 C233.72,522.71 234.27,524.17 236.25,526.25 C238.23,528.33 235.83,529.06 245,530 C254.17,530.94 283.54,531.58 291.25,531.9" class="faint"/><path d="M291.25,531.9 C291.88,530.33 293.75,524.69 295,522.5 C296.25,520.31 298.12,519.38 298.75,518.75" class="faint"/><path d="M298.75,478.75 L298.75,518.75" class="faint"/><path d="M236.25,521.9 C243.96,521.79 272.29,521.67 282.5,521.25 C292.71,520.83 295,519.71 297.5,519.4" class="faint"/><path d="M291.25,531.9 C292.29,532.21 292.71,533.55 297.5,533.75 C302.29,533.95 313.12,534.35 320,533.1 C326.88,531.85 334.79,529.48 338.75,526.25 C342.71,523.02 342.71,518.96 343.75,513.75 C344.79,508.54 345.21,501.25 345,495 C344.79,488.75 342.92,479.38 342.5,476.25" class="faint"/><rect x="325" y="482" width="19" height="33" rx="5" class="faint"/><path d="M291.25,467.5 C291.88,466.88 291.46,464.48 295,463.75 C298.54,463.02 306.67,462.68 312.5,463.1 C318.33,463.52 327.08,465.73 330,466.25" class="faint"/><path d="M236.25,471.5 L237,474.5 L262,474.4" class="faint"/><path d="M350,520 C350.21,522.71 350.21,533.12 351.25,536.25 C352.29,539.38 347.71,538.33 356.25,538.75 C364.79,539.17 391.25,539.17 402.5,538.75 C413.75,538.33 420.21,536.67 423.75,536.25" class="faint"/><path d="M351.25,531.25 C357.71,531.04 377.92,531.25 390,530 C402.08,528.75 418.12,524.79 423.75,523.75" class="faint"/><path d="M402.5,448.75 C402.29,450 400.83,453.12 401.25,456.25 C401.67,459.38 402.71,464.38 405,467.5 C407.29,470.62 411.88,473.23 415,475 C418.12,476.77 422.29,477.58 423.75,478.1" class="faint"/><path d="M440,451.25 C442.08,452.92 448.33,457.29 452.5,461.25 C456.67,465.21 462.58,471.21 465,475 C467.42,478.79 466.67,482.5 467,484" class="faint"/><path d="M402.5,480 L421.25,483.75" class="faint"/><path d="M448.75,490 C449.38,484.79 449.79,487.29 452.5,487.5 C455.21,487.71 462.71,486.46 465,491.25 C467.29,496.04 468.33,511.14 466.25,516.25 C464.17,521.36 455.42,521.48 452.5,521.9 C449.58,522.32 449.38,524.07 448.75,518.75 C448.12,513.43 448.12,495.21 448.75,490Z" class="faint"/><path d="M423.75,536.25 L466.9,536.25" class="faint"/></g><g transform="translate(0,1105.5) scale(1,-1)"><path d="M0,430.6 L13.75,429.4"/><path d="M0,437.5 L21.25,426.5"/><path d="M0,442.5 C4.17,441.88 16.67,439.58 25,438.75 C33.33,437.92 35.83,437.71 50,437.5 C64.17,437.29 96.25,437.46 110,437.5 C123.75,437.54 127.29,437.02 132.5,437.75 C137.71,438.48 138.96,440.27 141.25,441.9 C143.54,443.52 145.11,445.94 146.25,447.5 C147.39,449.06 147.79,450.62 148.1,451.25"/><path d="M0,471.9 C4.17,470.54 14.58,466.05 25,463.75 C35.42,461.45 50,459.56 62.5,458.1 C75,456.64 89.08,455.77 100,455 C110.92,454.23 119.98,454.08 128,453.5 C136.02,452.92 144.75,451.83 148.1,451.5"/><path d="M0,496 C6.25,495.1 25,492.23 37.5,490.6 C50,488.98 62.92,487.28 75,486.25 C87.08,485.22 99.9,485.12 110,484.4 C120.1,483.67 131.33,482.32 135.6,481.9"/><path d="M148.1,451.5 C149.04,451.29 150.93,450.5 153.75,450.25 C156.57,450 163.12,450.04 165,450"/><path d="M165,450 C174.17,452.29 206.67,460.21 220,463.75 C233.33,467.29 236.67,469.27 245,471.25 C253.33,473.23 261.25,474.35 270,475.6 C278.75,476.85 284.5,478.18 297.5,478.75 C310.5,479.32 332.58,478.96 348,479 C363.42,479.04 376.75,479.35 390,479 C403.25,478.65 415.83,477.5 427.5,476.9 C439.17,476.3 448.33,476.13 460,475.4 C471.67,474.67 484.58,473.33 497.5,472.5 C510.42,471.67 525.83,470.19 537.5,470.4 C549.17,470.61 556.67,471.94 567.5,473.75 C578.33,475.56 596.67,480 602.5,481.25"/><path d="M170,441.25 C178.33,443.62 207.5,451.96 220,455.5 C232.5,459.04 236.67,460.5 245,462.5 C253.33,464.5 261.67,466.25 270,467.5 C278.33,468.75 286.67,469.48 295,470 C303.33,470.52 311.17,470.6 320,470.6 C328.83,470.6 334.25,470.42 348,470 C361.75,469.58 387.17,468.9 402.5,468.1 C417.83,467.3 430.42,465.82 440,465.2 C449.58,464.58 456.67,464.53 460,464.4"/><path d="M192.5,437.5 C200.08,437.6 218.83,437.78 238,438.1 C257.17,438.42 289.17,438.98 307.5,439.4 C325.83,439.82 334.25,440.08 348,440.6 C361.75,441.12 376.75,441.56 390,442.5 C403.25,443.44 416.25,445.1 427.5,446.25 C438.75,447.4 450.83,448.36 457.5,449.4 C464.17,450.44 465.21,450.94 467.5,452.5 C469.79,454.06 471.04,456.98 471.25,458.75 C471.46,460.52 470.62,462.16 468.75,463.1 C466.88,464.04 461.46,464.18 460,464.4"/><path d="M196.25,442.5 C203.21,442.5 221.54,442.4 238,442.5 C254.46,442.6 276.67,442.78 295,443.1 C313.33,443.42 332.17,443.77 348,444.4 C363.83,445.03 376.75,445.97 390,446.9 C403.25,447.83 417.08,449.07 427.5,450 C437.92,450.93 446.88,451.67 452.5,452.5 C458.12,453.33 459.58,453.83 461.25,455 C462.92,456.17 462.92,458.12 462.5,459.5 C462.08,460.88 460,462.52 458.75,463.3 C457.5,464.08 455.62,464.05 455,464.2"/><path d="M150,425 C151.04,426.46 154.17,431.46 156.25,433.75 C158.33,436.04 160.21,437.61 162.5,438.75 C164.79,439.89 167.71,440.71 170,440.6 C172.29,440.49 174.58,439.24 176.25,438.1 C177.92,436.96 179.38,434.48 180,433.75"/><path d="M170,441.25 L165,450"/><path d="M180,433.75 C180,432.12 180.83,428.54 182.5,425 C184.17,421.46 187.5,415.32 190,412.5 C192.5,409.68 194.38,408.93 197.5,408.1 C200.62,407.27 206.67,407.18 208.75,407.5 C210.83,407.82 210.62,407.92 210,410 C209.38,412.08 206.67,416.46 205,420 C203.33,423.54 201.67,428.75 200,431.25 C198.33,433.75 197.92,434.42 195,435 C192.08,435.58 185,434.96 182.5,434.75 C180,434.54 180,435.38 180,433.75Z" class="wfill"/><path d="M191.25,436.25 C192.08,437.29 194.38,440.21 196.25,442.5 C198.12,444.79 201.46,448.75 202.5,450"/><path d="M308.75,423.75 C309.89,426.46 314.35,436.77 315.6,440 C316.85,443.23 316.14,442.58 316.25,443.1"/><path d="M305,443.75 C306.67,446.25 312.5,454.27 315,458.75 C317.5,463.23 319.17,468.62 320,470.6"/><path d="M327.5,444.4 C328.12,446.79 330.21,454.38 331.25,458.75 C332.29,463.12 333.33,468.62 333.75,470.6"/><ellipse cx="285.6" cy="427.6" rx="15.6" ry="3.8"/><ellipse cx="420.6" cy="430" rx="16.25" ry="4" transform="rotate(-1 420.6 430)"/><path d="M432.5,421.25 C434.79,421.67 442.71,422.29 446.25,423.75 C449.79,425.21 451.88,425.83 453.75,430 C455.62,434.17 456.88,445.62 457.5,448.75"/><path d="M467.3,433 C467.22,430.83 467.38,428.83 469,427.5 C470.62,426.17 472.67,425.22 477,425 C481.33,424.78 490.92,425.37 495,426.2 C499.08,427.03 500.17,428.03 501.5,430 C502.83,431.97 503.25,435.7 503,438 C502.75,440.3 501.83,442.53 500,443.8 C498.17,445.07 495.83,445.47 492,445.6 C488.17,445.73 480.75,445.45 477,444.6 C473.25,443.75 471.12,442.43 469.5,440.5 C467.88,438.57 467.38,435.17 467.3,433Z"/><path d="M466.25,483.1 C471.54,482.95 487.71,482.45 498,482.2 C508.29,481.95 523,481.7 528,481.6"/><path d="M466.25,483.1 C466.46,486.12 466.88,494.48 467.5,501.25 C468.12,508.02 469.58,520 470,523.75"/><path d="M538.75,440 C539.79,439.38 541.67,436.98 545,436.25 C548.33,435.52 553.96,434.88 558.75,435.6 C563.54,436.33 569.17,437.99 573.75,440.6 C578.33,443.21 582.5,446.98 586.25,451.25 C590,455.52 593.54,461.25 596.25,466.25 C598.96,471.25 601.46,478.75 602.5,481.25"/><path d="M538.75,440 C539.17,440.62 539.79,442.82 541.25,443.75 C542.71,444.68 542.08,444.66 547.5,445.6 C552.92,446.54 567.92,448.04 573.75,449.4 C579.58,450.76 579.38,450.94 582.5,453.75 C585.62,456.56 589.58,462.08 592.5,466.25 C595.42,470.42 598.33,476.25 600,478.75 C601.67,481.25 602.08,480.83 602.5,481.25"/><path d="M547.5,445.6 L537.5,470.4"/><path d="M236.25,475 C235.62,478.33 233.03,487.92 232.5,495 C231.97,502.08 232.47,512.29 233.1,517.5 C233.72,522.71 234.27,524.17 236.25,526.25 C238.23,528.33 235.83,529.06 245,530 C254.17,530.94 283.54,531.58 291.25,531.9" class="faint"/><path d="M291.25,531.9 C291.88,530.33 293.75,524.69 295,522.5 C296.25,520.31 298.12,519.38 298.75,518.75" class="faint"/><path d="M298.75,478.75 L298.75,518.75" class="faint"/><path d="M236.25,521.9 C243.96,521.79 272.29,521.67 282.5,521.25 C292.71,520.83 295,519.71 297.5,519.4" class="faint"/><path d="M291.25,531.9 C292.29,532.21 292.71,533.55 297.5,533.75 C302.29,533.95 313.12,534.35 320,533.1 C326.88,531.85 334.79,529.48 338.75,526.25 C342.71,523.02 342.71,518.96 343.75,513.75 C344.79,508.54 345.21,501.25 345,495 C344.79,488.75 342.92,479.38 342.5,476.25" class="faint"/><rect x="325" y="482" width="19" height="33" rx="5" class="faint"/><path d="M291.25,467.5 C291.88,466.88 291.46,464.48 295,463.75 C298.54,463.02 306.67,462.68 312.5,463.1 C318.33,463.52 327.08,465.73 330,466.25" class="faint"/><path d="M236.25,471.5 L237,474.5 L262,474.4" class="faint"/><path d="M350,520 C350.21,522.71 350.21,533.12 351.25,536.25 C352.29,539.38 347.71,538.33 356.25,538.75 C364.79,539.17 391.25,539.17 402.5,538.75 C413.75,538.33 420.21,536.67 423.75,536.25" class="faint"/><path d="M351.25,531.25 C357.71,531.04 377.92,531.25 390,530 C402.08,528.75 418.12,524.79 423.75,523.75" class="faint"/><path d="M402.5,448.75 C402.29,450 400.83,453.12 401.25,456.25 C401.67,459.38 402.71,464.38 405,467.5 C407.29,470.62 411.88,473.23 415,475 C418.12,476.77 422.29,477.58 423.75,478.1" class="faint"/><path d="M440,451.25 C442.08,452.92 448.33,457.29 452.5,461.25 C456.67,465.21 462.58,471.21 465,475 C467.42,478.79 466.67,482.5 467,484" class="faint"/><path d="M402.5,480 L421.25,483.75" class="faint"/><path d="M448.75,490 C449.38,484.79 449.79,487.29 452.5,487.5 C455.21,487.71 462.71,486.46 465,491.25 C467.29,496.04 468.33,511.14 466.25,516.25 C464.17,521.36 455.42,521.48 452.5,521.9 C449.58,522.32 449.38,524.07 448.75,518.75 C448.12,513.43 448.12,495.21 448.75,490Z" class="faint"/><path d="M423.75,536.25 L466.9,536.25" class="faint"/></g><path d="M0,427.25 C3.54,427.08 -0.08,426.73 21.25,426.25 C42.58,425.77 101.12,424.82 128,424.4 C154.88,423.98 164.17,423.86 182.5,423.75 C200.83,423.64 211.75,423.75 238,423.75 C264.25,423.75 313.62,423.75 340,423.75 C366.38,423.75 383.75,424.06 396.25,423.75 C408.75,423.44 407.71,422.52 415,421.9 C422.29,421.27 431.17,420.5 440,420 C448.83,419.5 459.67,419.07 468,418.9 C476.33,418.73 484.04,418.88 490,419 C495.96,419.12 496.25,418.6 503.75,419.6 C511.25,420.6 525.42,422.85 535,425 C544.58,427.15 552.71,430.21 561.25,432.5 C569.79,434.79 580.83,437.08 586.25,438.75 C591.67,440.42 590.62,439.38 593.75,442.5 C596.88,445.62 601.46,451.46 605,457.5 C608.54,463.54 612.5,472.08 615,478.75 C617.5,485.42 618.85,491.29 620,497.5 C621.15,503.71 621.47,509.75 621.9,516 C622.33,522.25 622.47,528.88 622.6,535 C622.73,541.12 622.7,546.83 622.7,552.75 C622.7,558.67 622.73,564.38 622.6,570.5 C622.47,576.62 622.33,583.25 621.9,589.5 C621.47,595.75 621.15,601.79 620,608 C618.85,614.21 617.5,620.08 615,626.75 C612.5,633.42 608.54,641.96 605,648 C601.46,654.04 596.88,659.88 593.75,663 C590.62,666.12 591.67,665.08 586.25,666.75 C580.83,668.42 569.79,670.71 561.25,673 C552.71,675.29 544.58,678.35 535,680.5 C525.42,682.65 511.25,684.9 503.75,685.9 C496.25,686.9 495.96,686.38 490,686.5 C484.04,686.62 476.33,686.77 468,686.6 C459.67,686.43 448.83,686 440,685.5 C431.17,685 422.29,684.23 415,683.6 C407.71,682.98 408.75,682.06 396.25,681.75 C383.75,681.44 366.38,681.75 340,681.75 C313.62,681.75 264.25,681.75 238,681.75 C211.75,681.75 200.83,681.86 182.5,681.75 C164.17,681.64 154.88,681.52 128,681.1 C101.12,680.68 42.58,679.73 21.25,679.25 C-0.08,678.77 3.54,678.42 0,678.25"/><path d="M148.1,451.5 C146.96,453.33 143.22,457.75 141.25,462.5 C139.28,467.25 137.92,474.58 136.25,480 C134.58,485.42 132.92,487.29 131.25,495 C129.58,502.71 127.25,516.62 126.25,526.25 C125.25,535.88 125.25,543.92 125.25,552.75 C125.25,561.58 125.25,569.62 126.25,579.25 C127.25,588.88 129.58,602.79 131.25,610.5 C132.92,618.21 134.58,620.08 136.25,625.5 C137.92,630.92 139.28,638.25 141.25,643 C143.22,647.75 146.96,652.17 148.1,654"/><path d="M228.1,581.5 C228.42,584.25 229.38,593.17 230,598 C230.62,602.83 231.23,605.75 231.8,610.5 C232.37,615.25 233.49,623.07 233.4,626.5 C233.31,629.93 233.07,629.81 231.25,631.1 C229.43,632.39 228.12,632.58 222.5,634.25 C216.88,635.92 204.58,639.33 197.5,641.1 C190.42,642.88 184.58,644.38 180,644.9 C175.42,645.42 172.92,645.19 170,644.25 C167.08,643.31 164.58,641.96 162.5,639.25 C160.42,636.54 159.17,632.79 157.5,628 C155.83,623.21 154.17,618.62 152.5,610.5 C150.83,602.38 148.5,588.88 147.5,579.25 C146.5,569.62 146.5,561.58 146.5,552.75 C146.5,543.92 146.5,535.88 147.5,526.25 C148.5,516.62 150.83,503.12 152.5,495 C154.17,486.88 155.83,482.29 157.5,477.5 C159.17,472.71 160.42,468.96 162.5,466.25 C164.58,463.54 167.08,462.19 170,461.25 C172.92,460.31 175.42,460.08 180,460.6 C184.58,461.12 190.42,462.62 197.5,464.4 C204.58,466.17 216.88,469.58 222.5,471.25 C228.12,472.92 229.43,473.11 231.25,474.4 C233.07,475.69 233.31,475.57 233.4,479 C233.49,482.43 232.37,490.25 231.8,495 C231.23,499.75 230.62,502.67 230,507.5 C229.38,512.33 228.42,521.25 228.1,524"/><path d="M228.1,524 C228,524.58 228.52,526.53 227.5,527.5 C226.48,528.47 223.17,528.88 222,529.8 C220.83,530.72 220.83,531.13 220.5,533 C220.17,534.87 220.42,539.2 220,541 C219.58,542.8 219.92,542.8 218,543.8 C216.08,544.8 210.5,546.05 208.5,547 C206.5,547.95 206.48,548.54 206,549.5 C205.52,550.46 205.6,551.67 205.6,552.75 C205.6,553.83 205.52,555.04 206,556 C206.48,556.96 206.5,557.55 208.5,558.5 C210.5,559.45 216.08,560.7 218,561.7 C219.92,562.7 219.58,562.7 220,564.5 C220.42,566.3 220.17,570.63 220.5,572.5 C220.83,574.37 220.83,574.78 222,575.7 C223.17,576.62 226.48,577.03 227.5,578 C228.52,578.97 228,580.92 228.1,581.5"/><path d="M528,481.6 C528.58,481.83 530.65,482.23 531.5,483 C532.35,483.77 532.1,482.17 533.1,486.25 C534.1,490.33 536.35,499.79 537.5,507.5 C538.65,515.21 539.48,524.96 540,532.5 C540.52,540.04 540.6,546 540.6,552.75 C540.6,559.5 540.52,565.46 540,573 C539.48,580.54 538.65,590.29 537.5,598 C536.35,605.71 534.1,615.17 533.1,619.25 C532.1,623.33 532.35,621.73 531.5,622.5 C530.65,623.27 528.58,623.67 528,623.9"/><path d="M470,523.75 L473.1,526.9 L473.5,552.75 L473.1,578.6 L470,581.75"/><path d="M537.5,470.4 C538.33,473.46 541.04,481.52 542.5,488.75 C543.96,495.98 545.32,505.42 546.25,513.75 C547.18,522.08 547.74,532.25 548.1,538.75 C548.46,545.25 548.4,548.08 548.4,552.75 C548.4,557.42 548.46,560.25 548.1,566.75 C547.74,573.25 547.18,583.42 546.25,591.75 C545.32,600.08 543.96,609.52 542.5,616.75 C541.04,623.98 538.33,632.04 537.5,635.1"/><path d="M602.5,481.25 C603.54,483.54 607.08,489.21 608.75,495 C610.42,500.79 611.54,506.38 612.5,516 C613.46,525.62 614.5,540.5 614.5,552.75 C614.5,565 613.46,579.88 612.5,589.5 C611.54,599.12 610.42,604.71 608.75,610.5 C607.08,616.29 603.54,621.96 602.5,624.25"/><path d="M400,648.6 C395.21,648.29 378.12,648.31 371.25,646.75 C364.38,645.19 361.88,642.38 358.75,639.25 C355.62,636.12 353.96,630.71 352.5,628 C351.04,625.29 350.42,630.08 350,623 C349.58,615.92 350,597.21 350,585.5 C350,573.79 350,563.67 350,552.75 C350,541.83 350,531.71 350,520 C350,508.29 349.58,489.58 350,482.5 C350.42,475.42 351.04,480.21 352.5,477.5 C353.96,474.79 355.62,469.38 358.75,466.25 C361.88,463.12 364.38,460.31 371.25,458.75 C378.12,457.19 395.21,457.21 400,456.9" class="faint"/><path d="M424.4,478.75 L424.4,552.75 L424.4,626.75" class="faint"/><path d="M466.9,478 L466.9,552.75 L466.9,627.5" class="faint"/><path d="M356.9,538.75 L356.9,552.75 L356.9,566.75" class="faint"/></g>
<g class="car"><g><path d="M873.75,436.25 C871.88,439.58 866.04,449.79 862.5,456.25 C858.96,462.71 855.21,470 852.5,475 C849.79,480 847.29,484.38 846.25,486.25"/><path d="M875,435 C874.17,437.71 871.25,445 870,451.25 C868.75,457.5 867.92,468.96 867.5,472.5"/><path d="M878.75,433.1 C878.12,436.12 876.25,444.48 875,451.25 C873.75,458.02 871.88,470 871.25,473.75"/><path d="M885,432.5 L882.5,445"/><path d="M877.5,445.6 L882.5,445"/><path d="M871.25,474.4 C871.67,475.33 872.08,478.23 873.75,480 C875.42,481.77 880,484.17 881.25,485"/><path d="M867.5,473.75 C866.25,475.21 862.92,479.79 860,482.5 C857.08,485.21 853.96,488.12 850,490 C846.04,491.88 838.54,493.12 836.25,493.75"/><path d="M806.25,481.25 C806.67,479.27 806.04,478.44 810,477.5 C813.96,476.56 825.83,475.39 830,475.6 C834.17,475.81 834.17,476.77 835,478.75 C835.83,480.73 835.42,485 835,487.5 C834.58,490 833.96,492.4 832.5,493.75 C831.04,495.1 829.58,495.6 826.25,495.6 C822.92,495.6 815.62,494.78 812.5,493.75 C809.38,492.72 808.54,491.48 807.5,489.4 C806.46,487.32 805.83,483.23 806.25,481.25Z" class="wfill"/><path d="M828.75,495.6 C827.92,497.17 824.88,501.6 823.75,505 C822.62,508.4 822.31,511.67 822,516 C821.69,520.33 822.13,521.83 821.9,531 C821.67,540.17 820.92,560.83 820.6,571 C820.28,581.17 820.1,585.08 820,592 C819.9,598.92 820,609.08 820,612.5"/><path d="M821.9,531 C822.42,535.58 823.86,550.79 825,558.5 C826.14,566.21 827.71,571.67 828.75,577.25 C829.79,582.83 830.83,589.54 831.25,592"/><path d="M837.5,497.5 C838.23,495.73 839.58,494.98 841.25,494.4 C842.92,493.82 846.04,493.69 847.5,494 C848.96,494.31 847.08,495.57 850,496.25 C852.92,496.93 858.75,497.58 865,498.1 C871.25,498.62 880.42,498.67 887.5,499.4 C894.58,500.13 903.43,501.47 907.5,502.5 C911.57,503.53 911.69,504.35 911.9,505.6 C912.11,506.85 910.73,508.75 908.75,510 C906.77,511.25 905.62,512.55 900,513.1 C894.38,513.65 883.33,513.37 875,513.3 C866.67,513.23 856.04,513.15 850,512.7 C843.96,512.25 840.93,511.88 838.75,510.6 C836.57,509.32 837.11,507.18 836.9,505 C836.69,502.82 836.77,499.27 837.5,497.5Z"/><path d="M865,499 C865.62,500.79 867.08,506.5 868.75,509.75 C870.42,513 872.29,515.38 875,518.5 C877.71,521.62 881.25,524.96 885,528.5 C888.75,532.04 894,536.7 897.5,539.75 C901,542.8 903.83,545.12 906,546.8 C908.17,548.47 909.04,549.14 910.5,549.8 C911.96,550.46 913.17,550.59 914.75,550.75 C916.33,550.91 919.12,550.75 920,550.75"/><path d="M837.5,511.6 C837.22,512.22 836.42,514.15 835.8,515.3 C835.17,516.45 835.87,515.98 833.75,518.5 C831.63,521.02 824.88,528.42 823.1,530.4"/><path d="M907.25,524.1 C907.62,525.25 908.67,528.81 909.5,531 C910.33,533.19 911.33,535.33 912.25,537.25 C913.17,539.17 914.08,541.08 915,542.5 C915.92,543.92 916.59,544.97 917.8,545.8 C919.01,546.63 920.72,547.22 922.25,547.5 C923.78,547.78 926.21,547.5 927,547.5"/><path d="M886.25,530.4 C881.88,530.38 866.71,530.27 860,530.3 C853.29,530.33 849.08,530.23 846,530.6 C842.92,530.97 842.58,531.43 841.5,532.5 C840.42,533.57 840.03,534.75 839.5,537 C838.97,539.25 838.52,542.83 838.3,546 C838.08,549.17 838,553.17 838.2,556 C838.4,558.83 838.78,561.17 839.5,563 C840.22,564.83 841.38,566.08 842.5,567 C843.62,567.92 845.62,568.25 846.25,568.5"/><path d="M828.75,576 C830.21,575.17 834.58,572.25 837.5,571 C840.42,569.75 844.79,568.92 846.25,568.5"/><path d="M831.25,587.25 C834.38,584.33 844.79,574.96 850,569.75 C855.21,564.54 859.83,558.91 862.5,556 C865.17,553.09 864.75,553.23 866,552.3 C867.25,551.37 868,550.9 870,550.4 C872,549.9 875.08,549.52 878,549.3 C880.92,549.08 884.67,549.05 887.5,549.1 C890.33,549.15 892.92,549.28 895,549.6 C897.08,549.92 898.33,550.27 900,551 C901.67,551.73 903.38,553.07 905,554 C906.62,554.93 908.12,555.95 909.75,556.6 C911.38,557.25 913.04,557.68 914.75,557.9 C916.46,558.12 919.12,557.9 920,557.9"/><path d="M858.75,567.25 C859.12,566.96 859.96,565.92 861,565.5 C862.04,565.08 858.5,564.93 865,564.75 C871.5,564.57 894.17,564.46 900,564.4"/><path d="M858.75,567.25 C857.79,568.21 854.67,571.12 853,573 C851.33,574.88 849.43,577.17 848.75,578.5 C848.07,579.83 848.61,580.28 848.9,581 C849.19,581.72 849.48,582.28 850.5,582.8 C851.52,583.32 854.25,583.88 855,584.1"/><path d="M855,584.1 L895,583.5"/><path d="M895,583.5 C896.21,582.46 900.42,579 902.25,577.25 C904.08,575.5 904.96,573.94 906,573 C907.04,572.06 907.04,572.03 908.5,571.6 C909.96,571.17 913.71,570.6 914.75,570.4"/><path d="M853.65,579.5 Q852.8,578 854.31,576.4 L859.74,570.7 Q861.25,569.1 863.45,569.06 L890.6,568.54 Q892.8,568.5 893,569.75 L893,569.75 Q893.2,571 891.87,572.75 L888.83,576.75 Q887.5,578.5 885.41,579.2 L882.09,580.3 Q880,581 877.8,581 L856.7,581 Q854.5,581 853.65,579.5Z"/><path d="M929.1,570.4 L929.1,584.1"/><path d="M820,592 L820,612.5 Q820,621.25 828,621.25 L854,621.25 Q860,621 860.6,612 L860.6,588"/><path d="M838.75,560 C838.96,560.83 838.75,563.65 840,565 C841.25,566.35 845.21,567.58 846.25,568.1"/></g><g transform="translate(1907,0) scale(-1,1)"><path d="M873.75,436.25 C871.88,439.58 866.04,449.79 862.5,456.25 C858.96,462.71 855.21,470 852.5,475 C849.79,480 847.29,484.38 846.25,486.25"/><path d="M875,435 C874.17,437.71 871.25,445 870,451.25 C868.75,457.5 867.92,468.96 867.5,472.5"/><path d="M878.75,433.1 C878.12,436.12 876.25,444.48 875,451.25 C873.75,458.02 871.88,470 871.25,473.75"/><path d="M885,432.5 L882.5,445"/><path d="M877.5,445.6 L882.5,445"/><path d="M871.25,474.4 C871.67,475.33 872.08,478.23 873.75,480 C875.42,481.77 880,484.17 881.25,485"/><path d="M867.5,473.75 C866.25,475.21 862.92,479.79 860,482.5 C857.08,485.21 853.96,488.12 850,490 C846.04,491.88 838.54,493.12 836.25,493.75"/><path d="M806.25,481.25 C806.67,479.27 806.04,478.44 810,477.5 C813.96,476.56 825.83,475.39 830,475.6 C834.17,475.81 834.17,476.77 835,478.75 C835.83,480.73 835.42,485 835,487.5 C834.58,490 833.96,492.4 832.5,493.75 C831.04,495.1 829.58,495.6 826.25,495.6 C822.92,495.6 815.62,494.78 812.5,493.75 C809.38,492.72 808.54,491.48 807.5,489.4 C806.46,487.32 805.83,483.23 806.25,481.25Z" class="wfill"/><path d="M828.75,495.6 C827.92,497.17 824.88,501.6 823.75,505 C822.62,508.4 822.31,511.67 822,516 C821.69,520.33 822.13,521.83 821.9,531 C821.67,540.17 820.92,560.83 820.6,571 C820.28,581.17 820.1,585.08 820,592 C819.9,598.92 820,609.08 820,612.5"/><path d="M821.9,531 C822.42,535.58 823.86,550.79 825,558.5 C826.14,566.21 827.71,571.67 828.75,577.25 C829.79,582.83 830.83,589.54 831.25,592"/><path d="M837.5,497.5 C838.23,495.73 839.58,494.98 841.25,494.4 C842.92,493.82 846.04,493.69 847.5,494 C848.96,494.31 847.08,495.57 850,496.25 C852.92,496.93 858.75,497.58 865,498.1 C871.25,498.62 880.42,498.67 887.5,499.4 C894.58,500.13 903.43,501.47 907.5,502.5 C911.57,503.53 911.69,504.35 911.9,505.6 C912.11,506.85 910.73,508.75 908.75,510 C906.77,511.25 905.62,512.55 900,513.1 C894.38,513.65 883.33,513.37 875,513.3 C866.67,513.23 856.04,513.15 850,512.7 C843.96,512.25 840.93,511.88 838.75,510.6 C836.57,509.32 837.11,507.18 836.9,505 C836.69,502.82 836.77,499.27 837.5,497.5Z"/><path d="M865,499 C865.62,500.79 867.08,506.5 868.75,509.75 C870.42,513 872.29,515.38 875,518.5 C877.71,521.62 881.25,524.96 885,528.5 C888.75,532.04 894,536.7 897.5,539.75 C901,542.8 903.83,545.12 906,546.8 C908.17,548.47 909.04,549.14 910.5,549.8 C911.96,550.46 913.17,550.59 914.75,550.75 C916.33,550.91 919.12,550.75 920,550.75"/><path d="M837.5,511.6 C837.22,512.22 836.42,514.15 835.8,515.3 C835.17,516.45 835.87,515.98 833.75,518.5 C831.63,521.02 824.88,528.42 823.1,530.4"/><path d="M907.25,524.1 C907.62,525.25 908.67,528.81 909.5,531 C910.33,533.19 911.33,535.33 912.25,537.25 C913.17,539.17 914.08,541.08 915,542.5 C915.92,543.92 916.59,544.97 917.8,545.8 C919.01,546.63 920.72,547.22 922.25,547.5 C923.78,547.78 926.21,547.5 927,547.5"/><path d="M886.25,530.4 C881.88,530.38 866.71,530.27 860,530.3 C853.29,530.33 849.08,530.23 846,530.6 C842.92,530.97 842.58,531.43 841.5,532.5 C840.42,533.57 840.03,534.75 839.5,537 C838.97,539.25 838.52,542.83 838.3,546 C838.08,549.17 838,553.17 838.2,556 C838.4,558.83 838.78,561.17 839.5,563 C840.22,564.83 841.38,566.08 842.5,567 C843.62,567.92 845.62,568.25 846.25,568.5"/><path d="M828.75,576 C830.21,575.17 834.58,572.25 837.5,571 C840.42,569.75 844.79,568.92 846.25,568.5"/><path d="M831.25,587.25 C834.38,584.33 844.79,574.96 850,569.75 C855.21,564.54 859.83,558.91 862.5,556 C865.17,553.09 864.75,553.23 866,552.3 C867.25,551.37 868,550.9 870,550.4 C872,549.9 875.08,549.52 878,549.3 C880.92,549.08 884.67,549.05 887.5,549.1 C890.33,549.15 892.92,549.28 895,549.6 C897.08,549.92 898.33,550.27 900,551 C901.67,551.73 903.38,553.07 905,554 C906.62,554.93 908.12,555.95 909.75,556.6 C911.38,557.25 913.04,557.68 914.75,557.9 C916.46,558.12 919.12,557.9 920,557.9"/><path d="M858.75,567.25 C859.12,566.96 859.96,565.92 861,565.5 C862.04,565.08 858.5,564.93 865,564.75 C871.5,564.57 894.17,564.46 900,564.4"/><path d="M858.75,567.25 C857.79,568.21 854.67,571.12 853,573 C851.33,574.88 849.43,577.17 848.75,578.5 C848.07,579.83 848.61,580.28 848.9,581 C849.19,581.72 849.48,582.28 850.5,582.8 C851.52,583.32 854.25,583.88 855,584.1"/><path d="M855,584.1 L895,583.5"/><path d="M895,583.5 C896.21,582.46 900.42,579 902.25,577.25 C904.08,575.5 904.96,573.94 906,573 C907.04,572.06 907.04,572.03 908.5,571.6 C909.96,571.17 913.71,570.6 914.75,570.4"/><path d="M853.65,579.5 Q852.8,578 854.31,576.4 L859.74,570.7 Q861.25,569.1 863.45,569.06 L890.6,568.54 Q892.8,568.5 893,569.75 L893,569.75 Q893.2,571 891.87,572.75 L888.83,576.75 Q887.5,578.5 885.41,579.2 L882.09,580.3 Q880,581 877.8,581 L856.7,581 Q854.5,581 853.65,579.5Z"/><path d="M929.1,570.4 L929.1,584.1"/><path d="M820,592 L820,612.5 Q820,621.25 828,621.25 L854,621.25 Q860,621 860.6,612 L860.6,588"/><path d="M838.75,560 C838.96,560.83 838.75,563.65 840,565 C841.25,566.35 845.21,567.58 846.25,568.1"/></g><path d="M1070.75,491.25 C1069.5,490.21 1065.54,488.12 1063.25,485 C1060.96,481.88 1059.71,477.71 1057,472.5 C1054.29,467.29 1050.54,459.58 1047,453.75 C1043.46,447.92 1038.67,441.04 1035.75,437.5 C1032.83,433.96 1034.29,433.85 1029.5,432.5 C1024.71,431.15 1015.29,430.23 1007,429.4 C998.71,428.57 988.67,427.92 979.75,427.5 C970.83,427.08 962.25,426.9 953.5,426.9 C944.75,426.9 936.17,427.08 927.25,427.5 C918.33,427.92 908.29,428.57 900,429.4 C891.71,430.23 882.29,431.15 877.5,432.5 C872.71,433.85 874.17,433.96 871.25,437.5 C868.33,441.04 863.54,447.92 860,453.75 C856.46,459.58 852.71,467.29 850,472.5 C847.29,477.71 846.04,481.88 843.75,485 C841.46,488.12 837.5,490.21 836.25,491.25"/><path d="M882.5,444.4 C885.42,444.18 892.42,443.46 900,443.1 C907.58,442.74 919.08,442.4 928,442.25 C936.92,442.1 945,442.2 953.5,442.2 C962,442.2 970.08,442.1 979,442.25 C987.92,442.4 999.42,442.74 1007,443.1 C1014.58,443.46 1021.58,444.18 1024.5,444.4"/><rect x="886" y="472" width="135" height="2.6" style="fill:#bdbdbd;stroke:none"/><path d="M953.5,445.6 Q925,445.6 888,449 Q882.6,449.6 882.2,454.5 L882,468 Q882.2,471.7 886,471.8 L953.5,472.2 L1021,471.8 Q1024.8,471.7 1025,468 L1024.8,454.5 Q1024.4,449.6 1019,449 Q982,445.6 953.5,445.6Z"/><path d="M871.25,474.4 C880.71,474.48 914.29,474.8 928,474.9 C941.71,475 945,475 953.5,475 C962,475 965.29,475 979,474.9 C992.71,474.8 1026.29,474.48 1035.75,474.4"/><path d="M847.5,493.75 C853.12,492.29 872.5,486.88 881.25,485 C890,483.12 892.21,483.12 900,482.5 C907.79,481.88 919.08,481.5 928,481.25 C936.92,481 945,481 953.5,481 C962,481 970.08,481 979,481.25 C987.92,481.5 999.21,481.88 1007,482.5 C1014.79,483.12 1017,483.12 1025.75,485 C1034.5,486.88 1053.88,492.29 1059.5,493.75"/><path d="M880,491.5 C888,491.15 915.75,489.86 928,489.4 C940.25,488.94 945,488.75 953.5,488.75 C962,488.75 966.75,488.94 979,489.4 C991.25,489.86 1019,491.15 1027,491.5"/><path d="M920,550.75 L953.5,550.75 L987,550.75"/><path d="M836,518.5 L953.5,518.5 L1071,518.5"/><path d="M881.25,523.75 L953.5,523.75 L1025.75,523.75"/><path d="M927,547.5 L953.5,547.5 L980,547.5"/><path d="M920,557.9 L953.5,557.9 L987,557.9"/><path d="M900,564.4 L953.5,564.3 L1007,564.4"/><path d="M914.75,570.4 L953.5,570.4 L992.25,570.4"/><path d="M825,560 C825.42,563.12 826.46,573.54 827.5,578.75 C828.54,583.96 829.79,588.75 831.25,591.25 C832.71,593.75 834.17,593.54 836.25,593.75 C838.33,593.96 841.04,593.23 843.75,592.5 C846.46,591.77 849.69,590.13 852.5,589.4 C855.31,588.67 856.43,588.52 860.6,588.1 C864.77,587.68 867.93,587.52 877.5,586.9 C887.07,586.28 905.33,584.87 918,584.4 C930.67,583.93 941.67,584.1 953.5,584.1 C965.33,584.1 976.33,583.93 989,584.4 C1001.67,584.87 1019.93,586.28 1029.5,586.9 C1039.07,587.52 1042.23,587.68 1046.4,588.1 C1050.57,588.52 1051.69,588.67 1054.5,589.4 C1057.31,590.13 1060.54,591.77 1063.25,592.5 C1065.96,593.23 1068.67,593.96 1070.75,593.75 C1072.83,593.54 1074.29,593.75 1075.75,591.25 C1077.21,588.75 1078.46,583.96 1079.5,578.75 C1080.54,573.54 1081.58,563.12 1082,560"/><path d="M860.6,601.25 L953.5,601.25 L1046.4,601.25"/><circle cx="953.4" cy="503.6" r="5.6" class="logo"/><circle cx="953.4" cy="503.6" r="3.4" fill="#eee" stroke="none" style="fill:#eee;stroke:none"/><path d="M953.4,500.2 A3.4,3.4 0 0 0 950,503.6 L953.4,503.6Z M953.4,507 A3.4,3.4 0 0 0 956.8,503.6 L953.4,503.6Z" style="fill:#222;stroke:none"/></g>
<g class="dim"><path d="M0,260.6 L250,260.6"/><path d="M170.25,260.6 L170.25,288"/><path d="M190.25,260.6 L190.25,315.5"/><path d="M0,287.5 L40,287.5"/><path d="M74.25,287.5 L170,287.5"/><path d="M170.2,287.5 L166.4,288.8 L166.4,286.2Z" class="ah"/><path d="M0,315 L40,315"/><path d="M74.25,315 L190,315"/><path d="M190.2,315 L186.4,316.3 L186.4,313.7Z" class="ah"/><text x="47.15 52.7 59.3 65.55" y="287.6">1627</text><text x="47 52.55 59.15 65.75" y="315.1">1932</text><path d="M72,67.6 L212,67.6"/><path d="M212,68 L212,146.25"/><path d="M212,181.9 L212,260"/><path d="M212,67.8 L213.3,71.6 L210.7,71.6Z" class="ah"/><path d="M212,260.4 L210.7,256.6 L213.3,256.6Z" class="ah"/><text x="202.45 208 214.6 220.85" y="164" transform="rotate(-90 212 164)">1407</text><path d="M401.6,262.25 L1024,262.25"/><path d="M401.6,262.25 L401.6,316.5"/><path d="M534,262.25 L534,290"/><path d="M948,262.25 L948,290"/><path d="M401.6,289.4 L454.5,289.4"/><path d="M481.25,289.4 L732.2,289.4"/><path d="M768.75,289.4 L1007,289.4"/><path d="M401.8,289.4 L405.6,288.1 L405.6,290.7Z" class="ah"/><path d="M533.8,289.4 L530,290.7 L530,288.1Z" class="ah"/><path d="M534.2,289.4 L538,288.1 L538,290.7Z" class="ah"/><path d="M947.8,289.4 L944,290.7 L944,288.1Z" class="ah"/><path d="M948.2,289.4 L952,288.1 L952,290.7Z" class="ah"/><path d="M401.6,316 L735,316"/><path d="M772.5,316 L1024,316"/><path d="M401.8,316 L405.6,314.7 L405.6,317.3Z" class="ah"/><text x="461.4 468 474.6" y="289.5">953</text><text x="740.3 746.9 753.5 760.1" y="289.5">3023</text><text x="743.6 750.2 756.8 763.4" y="316.1">5082</text><text x="1009.6 1015 1020.8 1027.2" y="289.5" style="text-anchor:start">1106</text><path d="M777.5,71.25 L775.1,88.1"/><path d="M770.8,118.75 L760,195"/><path d="M777.6,70.6 L778.36,74.54 L775.78,74.18Z" class="ah"/><path d="M759.9,195.6 L759.14,191.66 L761.72,192.02Z" class="ah"/><text x="764.35 769.9 776.5 782.05" y="103.3" transform="rotate(-82 773.2 103.3)">1031</text><path d="M886.9,75 L885,90"/><path d="M881.5,117 L873.1,182.5"/><path d="M887,74.4 L887.81,78.33 L885.23,78Z" class="ah"/><path d="M873,183.1 L872.19,179.17 L874.77,179.5Z" class="ah"/><text x="876.6 883.2 889.8" y="103.3" transform="rotate(-82.7 883.2 103.3)">943</text><path d="M270.4,445 L270.4,537"/><path d="M270.4,568.5 L270.4,660.5"/><path d="M270.4,444.3 L271.7,448.1 L269.1,448.1Z" class="ah"/><path d="M270.4,661.2 L269.1,657.4 L271.7,657.4Z" class="ah"/><text x="260.7 266.25 272.85 279.45" y="553" transform="rotate(-90 270.6 553)">1520</text><path d="M368.5,448 L368.5,536"/><path d="M368.5,569.5 L368.5,657.5"/><path d="M368.5,447.3 L369.8,451.1 L367.2,451.1Z" class="ah"/><path d="M368.5,658.2 L367.2,654.4 L369.8,654.4Z" class="ah"/><text x="358.8 364.35 370.95 377.55" y="553" transform="rotate(-90 368.7 553)">1454</text><path d="M793,621.6 L1024,621.6"/><path d="M806,621.6 L806,676.2"/><path d="M840.6,621.6 L840.6,649.2"/><path d="M840.6,648.75 L933,648.75"/><path d="M968,648.75 L1024,648.75"/><path d="M840.8,648.75 L844.6,647.45 L844.6,650.05Z" class="ah"/><path d="M806,675.75 L933,675.75"/><path d="M968,675.75 L1024,675.75"/><path d="M806.2,675.75 L810,674.45 L810,677.05Z" class="ah"/><text x="942.8 948.35 954.6 959.8" y="648.9">1671</text><text x="942.8 948.35 953.9 960.15" y="675.9">2137</text></g>
</svg>
</body></html>
